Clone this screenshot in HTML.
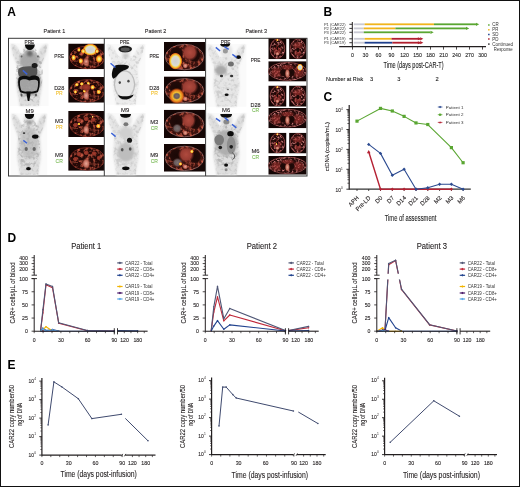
<!DOCTYPE html><html><head><meta charset="utf-8"><style>html,body{margin:0;padding:0;background:#fff;overflow:hidden}svg{display:block}text{font-family:"Liberation Sans",sans-serif}</style></head><body>
<div style="will-change:transform;width:520px;height:487px">
<svg width="520" height="487" viewBox="0 0 520 487">
<rect width="520" height="487" fill="#fff"/>
<text x="7.20" y="16.20" font-size="12" fill="#000" font-weight="bold">A</text>
<text x="323.60" y="16.20" font-size="12" fill="#000" font-weight="bold">B</text>
<text x="323.40" y="101.30" font-size="12" fill="#000" font-weight="bold">C</text>
<text x="7.40" y="242.30" font-size="12" fill="#000" font-weight="bold">D</text>
<text x="7.40" y="369.10" font-size="12" fill="#000" font-weight="bold">E</text>
<defs><filter id="b1" x="-30%" y="-30%" width="160%" height="160%"><feGaussianBlur stdDeviation="0.9"/></filter><filter id="b2" x="-30%" y="-30%" width="160%" height="160%"><feGaussianBlur stdDeviation="1.6"/></filter><filter id="b05" x="-30%" y="-30%" width="160%" height="160%"><feGaussianBlur stdDeviation="0.45"/></filter><filter id="texr" x="0" y="0" width="100%" height="100%"><feTurbulence type="fractalNoise" baseFrequency="0.32" numOctaves="2" seed="4"/><feColorMatrix type="matrix" values="0 0 0 0 0.80  0 0 0 0 0.14  0 0 0 0 0.08  3.0 0 0 0 -1.35"/></filter><filter id="texg" x="0" y="0" width="100%" height="100%"><feTurbulence type="fractalNoise" baseFrequency="0.28" numOctaves="2" seed="7"/><feColorMatrix type="matrix" values="0 0 0 0 0.40  0 0 0 0 0.40  0 0 0 0 0.40  4.0 0 0 0 -1.85"/></filter><filter id="texp" x="0" y="0" width="100%" height="100%"><feTurbulence type="fractalNoise" baseFrequency="0.5" numOctaves="2" seed="9"/><feColorMatrix type="matrix" values="0 0 0 0 0.86  0 0 0 0 0.30  0 0 0 0 0.30  3.2 0 0 0 -1.5"/></filter><radialGradient id="hot" cx="50%" cy="50%" r="50%"><stop offset="0" stop-color="#fbf3b0"/><stop offset="0.4" stop-color="#f7d23a"/><stop offset="0.75" stop-color="#e07018"/><stop offset="1" stop-color="#b02a10" stop-opacity="0"/></radialGradient><radialGradient id="hotw" cx="50%" cy="50%" r="50%"><stop offset="0" stop-color="#cfcfcf"/><stop offset="0.55" stop-color="#dcdcd0"/><stop offset="0.72" stop-color="#f7d23a"/><stop offset="0.88" stop-color="#e07018"/><stop offset="1" stop-color="#c03010" stop-opacity="0"/></radialGradient><radialGradient id="red" cx="50%" cy="50%" r="50%"><stop offset="0" stop-color="#a83c2e"/><stop offset="0.7" stop-color="#8a3024"/><stop offset="1" stop-color="#6a2018" stop-opacity="0"/></radialGradient><radialGradient id="pk" cx="50%" cy="50%" r="50%"><stop offset="0" stop-color="#b03a36" stop-opacity="0.7"/><stop offset="0.7" stop-color="#8a2a26" stop-opacity="0.55"/><stop offset="1" stop-color="#5a2420" stop-opacity="0"/></radialGradient><radialGradient id="sp" cx="50%" cy="50%" r="50%"><stop offset="0" stop-color="#e8a898"/><stop offset="0.6" stop-color="#c06a5a"/><stop offset="1" stop-color="#8a3020" stop-opacity="0"/></radialGradient><radialGradient id="dk" cx="50%" cy="50%" r="50%"><stop offset="0" stop-color="#1a0806"/><stop offset="0.8" stop-color="#220a08"/><stop offset="1" stop-color="#3a1410" stop-opacity="0"/></radialGradient><radialGradient id="gy" cx="50%" cy="50%" r="50%"><stop offset="0" stop-color="#7a7070"/><stop offset="0.6" stop-color="#6a5a5a"/><stop offset="1" stop-color="#5a3a38" stop-opacity="0"/></radialGradient><radialGradient id="ht" cx="50%" cy="50%" r="50%"><stop offset="0" stop-color="#b04a3e"/><stop offset="0.65" stop-color="#983c32"/><stop offset="1" stop-color="#7a2a24" stop-opacity="0"/></radialGradient></defs>
<text x="54.40" y="33.00" font-size="6.0" text-anchor="middle" fill="#231f20" stroke="#231f20" stroke-width="0.1" textLength="21.6" lengthAdjust="spacingAndGlyphs">Patient 1</text>
<text x="155.50" y="33.00" font-size="6.0" text-anchor="middle" fill="#231f20" stroke="#231f20" stroke-width="0.1" textLength="21.5" lengthAdjust="spacingAndGlyphs">Patient 2</text>
<text x="256.20" y="33.00" font-size="6.0" text-anchor="middle" fill="#231f20" stroke="#231f20" stroke-width="0.1" textLength="21.6" lengthAdjust="spacingAndGlyphs">Patient 3</text>
<rect x="8.5" y="38.3" width="298.5" height="137.7" fill="none" stroke="#3a3a3a" stroke-width="1"/>
<g transform="translate(10.00,43.50) scale(0.9625,1.0081)">
<rect x="0" y="0" width="40" height="62" fill="#fafafa"/>
<g filter="url(#b1)" fill="#dedede"><path d="M1,1 C4,0 7,2 10,8 L13,13 L27,13 L30,8 C33,2 36,0 39,1 L37,11 C35,16 33,20 32,24 L33,40 C33,46 32,50 31,54 L30,62 L10,62 L9,54 C8,50 7,46 7,40 L8,24 C7,20 5,16 3,11 Z"/><ellipse cx="20" cy="7" rx="6" ry="7"/></g>
<clipPath id="c1"><path d="M1,1 C4,0 7,2 10,8 L13,13 L27,13 L30,8 C33,2 36,0 39,1 L37,11 C35,16 33,20 32,24 L33,40 C33,46 32,50 31,54 L30,62 L10,62 L9,54 C8,50 7,46 7,40 L8,24 C7,20 5,16 3,11 Z"/></clipPath>
<rect x="0" y="0" width="40" height="62" filter="url(#texg)" clip-path="url(#c1)" opacity="0.4"/>
<ellipse cx="20" cy="17" rx="10" ry="9" fill="#a8a8a8" filter="url(#b1)"/>
<ellipse cx="20" cy="38" rx="12" ry="14" fill="#a0a0a0" filter="url(#b1)"/>
<clipPath id="c2"><ellipse cx="20" cy="30" rx="14" ry="28"/></clipPath>
<rect x="0" y="0" width="40" height="62" filter="url(#texg)" clip-path="url(#c2)" opacity="0.8"/>
<path d="M15.5,1 L25.7,1 C25.7,4.5 23,6.5 20.6,6.5 C18,6.5 15.5,4.5 15.5,1 Z" fill="#0e0e0e" filter="url(#b05)"/>
<ellipse cx="20.5" cy="10" rx="3" ry="3" fill="#6a6a6a" filter="url(#b1)"/>
<ellipse cx="12" cy="13" rx="1" ry="1" fill="#666" filter="url(#b05)"/>
<ellipse cx="29" cy="13" rx="1" ry="1" fill="#666" filter="url(#b05)"/>
<path d="M9,25 C13,22 24,22 28,24 C29,28 28,32 26,33 L10,33 C8,31 8,27 9,25 Z" fill="#555" filter="url(#b05)"/>
<ellipse cx="25.6" cy="21.8" rx="3.1" ry="2.5" fill="#1a1a1a" filter="url(#b05)"/>
<path d="M8.7,35 C10,31.5 16,31.5 20,33 C24,31 30,31.5 30.8,35 C31.5,40 30.5,45 29,48 C25,50 14,50 10.5,48 C8.5,44 8,39 8.7,35 Z" fill="#0e0e0e" filter="url(#b05)"/>
<path d="M10.5,37 C13,34.8 17,35.3 20,36.8 C23,35.8 27.5,35.3 29,37.3 C29.6,41 28.8,45 27.8,46.6 C23,48.2 15,48.2 11.8,46.6 C10.4,43 10,40 10.5,37 Z" fill="#a2a2a2" filter="url(#b05)"/>
<clipPath id="c3"><ellipse cx="19.8" cy="42" rx="8.5" ry="5.5"/></clipPath>
<rect x="0" y="0" width="40" height="62" filter="url(#texg)" clip-path="url(#c3)" opacity="0.9"/>
<path d="M17,47.5 L21.5,47.5 L21,52 L20,57 L18.5,57 L17.5,52 Z" fill="#0e0e0e" filter="url(#b05)"/>
<ellipse cx="12" cy="51" rx="1" ry="1.5" fill="#555" filter="url(#b05)"/>
<ellipse cx="27" cy="51" rx="1" ry="1.5" fill="#555" filter="url(#b05)"/>
<line x1="13.3" y1="26.7" x2="17.9" y2="30.6" stroke="#3b62d6" stroke-width="1.5"/>
</g>
<g transform="translate(10.80,113.50) scale(0.9125,0.9919)">
<rect x="0" y="0" width="40" height="62" fill="#fafafa"/>
<g filter="url(#b1)" fill="#dedede"><path d="M1,1 C4,0 7,2 10,8 L13,13 L27,13 L30,8 C33,2 36,0 39,1 L37,11 C35,16 33,20 32,24 L33,40 C33,46 32,50 31,54 L30,62 L10,62 L9,54 C8,50 7,46 7,40 L8,24 C7,20 5,16 3,11 Z"/><ellipse cx="20" cy="7" rx="6" ry="7"/></g>
<clipPath id="c4"><path d="M1,1 C4,0 7,2 10,8 L13,13 L27,13 L30,8 C33,2 36,0 39,1 L37,11 C35,16 33,20 32,24 L33,40 C33,46 32,50 31,54 L30,62 L10,62 L9,54 C8,50 7,46 7,40 L8,24 C7,20 5,16 3,11 Z"/></clipPath>
<rect x="0" y="0" width="40" height="62" filter="url(#texg)" clip-path="url(#c4)" opacity="0.4"/>
<ellipse cx="20" cy="30" rx="10" ry="16" fill="#c4c4c4" filter="url(#b1)"/>
<clipPath id="c5"><ellipse cx="20" cy="30" rx="12" ry="26"/></clipPath>
<rect x="0" y="0" width="40" height="62" filter="url(#texg)" clip-path="url(#c5)" opacity="0.6"/>
<path d="M15.3,0.5 L25.6,0.5 C25.6,4 23.5,5.6 20.4,5.6 C17.4,5.6 15.3,4 15.3,0.5 Z" fill="#0e0e0e" filter="url(#b05)"/>
<ellipse cx="20.5" cy="9" rx="3" ry="2.2" fill="#999" filter="url(#b1)"/>
<ellipse cx="26.8" cy="23.3" rx="3.6" ry="2.2" fill="#111" filter="url(#b05)"/>
<ellipse cx="14.5" cy="19.7" rx="1.3" ry="0.9" fill="#333" filter="url(#b05)"/>
<ellipse cx="16.9" cy="35.8" rx="1.8" ry="2" fill="#666" filter="url(#b05)"/>
<ellipse cx="25.6" cy="35.8" rx="1.8" ry="2" fill="#666" filter="url(#b05)"/>
<ellipse cx="19.3" cy="55.6" rx="2.6" ry="1.6" fill="#0e0e0e" filter="url(#b05)"/>
<line x1="13.7" y1="27" x2="17.8" y2="30" stroke="#3b62d6" stroke-width="1.5"/>
</g>
<clipPath id="c6"><rect x="0" y="0" width="35.90" height="25.70"/></clipPath>
<g transform="translate(68.20,43.50)" clip-path="url(#c6)">
<rect x="0" y="0" width="35.90" height="25.70" fill="#140605"/>
<ellipse cx="19.03" cy="13.88" rx="17.59" ry="11.31" fill="#240907" stroke="#8a3028" stroke-width="0.7"/>
<clipPath id="c7"><ellipse cx="19.03" cy="13.88" rx="17.59" ry="11.31"/></clipPath>
<rect x="0" y="0" width="35.90" height="25.70" filter="url(#texr)" clip-path="url(#c7)" opacity="0.85"/>
<ellipse cx="17.95" cy="18.50" rx="3.59" ry="5.14" fill="url(#sp)"/>
<ellipse cx="22.26" cy="6.17" rx="7.90" ry="6.17" fill="url(#hotw)"/>
<ellipse cx="5.38" cy="14.14" rx="2.51" ry="3.34" fill="url(#hot)"/>
<ellipse cx="12.56" cy="17.48" rx="2.51" ry="3.08" fill="url(#hot)"/>
<ellipse cx="30.87" cy="15.42" rx="3.59" ry="4.37" fill="url(#hot)"/>
<ellipse cx="15.08" cy="7.71" rx="2.51" ry="2.83" fill="url(#hot)"/>
<ellipse cx="28.72" cy="7.71" rx="2.15" ry="2.57" fill="url(#hot)"/>
<ellipse cx="10.77" cy="6.42" rx="1.79" ry="2.06" fill="url(#hot)"/>
<ellipse cx="17.95" cy="17.99" rx="2.87" ry="3.08" fill="url(#sp)"/>
</g>
<clipPath id="c8"><rect x="0" y="0" width="35.90" height="25.70"/></clipPath>
<g transform="translate(68.20,77.00)" clip-path="url(#c8)">
<rect x="0" y="0" width="35.90" height="25.70" fill="#140605"/>
<ellipse cx="19.03" cy="13.88" rx="17.59" ry="11.31" fill="#240907" stroke="#8a3028" stroke-width="0.7"/>
<clipPath id="c9"><ellipse cx="19.03" cy="13.88" rx="17.59" ry="11.31"/></clipPath>
<rect x="0" y="0" width="35.90" height="25.70" filter="url(#texr)" clip-path="url(#c9)" opacity="0.85"/>
<ellipse cx="17.95" cy="18.50" rx="3.59" ry="5.14" fill="url(#sp)"/>
<ellipse cx="8.62" cy="7.71" rx="2.15" ry="2.06" fill="url(#hot)"/>
<ellipse cx="13.64" cy="6.94" rx="2.15" ry="2.06" fill="url(#hot)"/>
<ellipse cx="20.10" cy="6.68" rx="1.79" ry="2.57" fill="url(#hot)"/>
<ellipse cx="24.41" cy="10.28" rx="2.51" ry="2.57" fill="url(#hot)"/>
<ellipse cx="30.51" cy="14.91" rx="2.51" ry="2.57" fill="url(#hot)"/>
<ellipse cx="7.18" cy="14.91" rx="1.79" ry="2.06" fill="url(#hot)"/>
<ellipse cx="16.16" cy="14.14" rx="1.79" ry="1.80" fill="url(#hot)"/>
<ellipse cx="17.95" cy="10.28" rx="5.38" ry="3.85" fill="url(#red)"/>
</g>
<clipPath id="c10"><rect x="0" y="0" width="35.90" height="26.00"/></clipPath>
<g transform="translate(68.20,111.00)" clip-path="url(#c10)">
<rect x="0" y="0" width="35.90" height="26.00" fill="#140605"/>
<ellipse cx="19.03" cy="14.04" rx="17.59" ry="11.44" fill="#240907" stroke="#8a3028" stroke-width="0.7"/>
<clipPath id="c11"><ellipse cx="19.03" cy="14.04" rx="17.59" ry="11.44"/></clipPath>
<rect x="0" y="0" width="35.90" height="26.00" filter="url(#texr)" clip-path="url(#c11)" opacity="0.85"/>
<ellipse cx="17.95" cy="18.72" rx="3.59" ry="5.20" fill="url(#sp)"/>
<ellipse cx="10.77" cy="9.10" rx="2.87" ry="2.60" fill="url(#red)"/>
<ellipse cx="17.95" cy="7.80" rx="2.87" ry="2.60" fill="url(#red)"/>
<ellipse cx="25.13" cy="8.58" rx="2.87" ry="2.60" fill="url(#red)"/>
<ellipse cx="30.16" cy="15.08" rx="2.51" ry="2.60" fill="url(#hot)"/>
<ellipse cx="7.18" cy="14.30" rx="2.51" ry="2.60" fill="url(#red)"/>
<ellipse cx="10.77" cy="13.00" rx="1.44" ry="1.56" fill="url(#hot)"/>
<ellipse cx="24.41" cy="5.72" rx="1.08" ry="1.30" fill="url(#hot)"/>
</g>
<clipPath id="c12"><rect x="0" y="0" width="35.90" height="25.80"/></clipPath>
<g transform="translate(68.20,145.00)" clip-path="url(#c12)">
<rect x="0" y="0" width="35.90" height="25.80" fill="#140605"/>
<ellipse cx="19.03" cy="13.93" rx="17.59" ry="11.35" fill="#240907" stroke="#8a3028" stroke-width="0.7"/>
<clipPath id="c13"><ellipse cx="19.03" cy="13.93" rx="17.59" ry="11.35"/></clipPath>
<rect x="0" y="0" width="35.90" height="25.80" filter="url(#texr)" clip-path="url(#c13)" opacity="0.85"/>
<ellipse cx="17.95" cy="18.58" rx="4.31" ry="5.68" fill="url(#sp)"/>
<ellipse cx="10.77" cy="9.03" rx="2.87" ry="2.58" fill="url(#red)"/>
<ellipse cx="17.95" cy="7.74" rx="2.87" ry="2.58" fill="url(#red)"/>
<ellipse cx="25.85" cy="8.51" rx="2.87" ry="2.58" fill="url(#red)"/>
<ellipse cx="7.18" cy="14.19" rx="2.51" ry="2.58" fill="url(#red)"/>
<ellipse cx="30.51" cy="12.90" rx="2.15" ry="2.58" fill="url(#red)"/>
</g>
<g transform="translate(106.00,44.00) scale(0.9850,0.9790)">
<rect x="0" y="0" width="40" height="62" fill="#fafafa"/>
<g filter="url(#b1)" fill="#ececec"><path d="M1,1 C4,0 7,2 10,8 L13,13 L27,13 L30,8 C33,2 36,0 39,1 L37,11 C35,16 33,20 32,24 L33,40 C33,46 32,50 31,54 L30,62 L10,62 L9,54 C8,50 7,46 7,40 L8,24 C7,20 5,16 3,11 Z"/><ellipse cx="20" cy="7" rx="6" ry="7"/></g>
<clipPath id="c14"><path d="M1,1 C4,0 7,2 10,8 L13,13 L27,13 L30,8 C33,2 36,0 39,1 L37,11 C35,16 33,20 32,24 L33,40 C33,46 32,50 31,54 L30,62 L10,62 L9,54 C8,50 7,46 7,40 L8,24 C7,20 5,16 3,11 Z"/></clipPath>
<rect x="0" y="0" width="40" height="62" filter="url(#texg)" clip-path="url(#c14)" opacity="0.4"/>
<ellipse cx="19.5" cy="5.2" rx="6.9" ry="3.4" fill="#1a1a1a" filter="url(#b05)"/>
<ellipse cx="19.5" cy="5.6" rx="4.6" ry="2.0" fill="#555" filter="url(#b05)"/>
<ellipse cx="20" cy="12" rx="3" ry="2.5" fill="#c8c8c8" filter="url(#b1)"/>
<ellipse cx="18.8" cy="41.2" rx="10.7" ry="14.3" fill="#bdbdbd" filter="url(#b05)"/>
<ellipse cx="18.8" cy="41.2" rx="9.6" ry="13.2" fill="#e6e6e6" filter="url(#b05)"/>
<path d="M10,21.8 C14,21 20,21.2 23.2,22.4 C23.4,24 22.5,25.5 20,26.2 C17,27 14.5,28.5 12.5,31 C11,33 9.5,35 7.5,35.6 C6,34.5 5.6,31 6.2,28.5 C6.8,25.5 8,23 10,21.8 Z" fill="#0e0e0e" filter="url(#b05)"/>
<ellipse cx="14" cy="39.4" rx="1.2" ry="1.4" fill="#444" filter="url(#b05)"/>
<ellipse cx="22.8" cy="38" rx="1.2" ry="1.4" fill="#444" filter="url(#b05)"/>
<path d="M12.2,51.8 C15,54 23,54 28,51.5 C27,55 23,56.6 19.5,56.6 C15.5,56.6 12.8,55 12.2,51.8 Z" fill="#0e0e0e" filter="url(#b05)"/>
<line x1="4.6" y1="19.6" x2="9.6" y2="24" stroke="#3b62d6" stroke-width="1.5"/>
</g>
<g transform="translate(106.50,113.00) scale(0.9750,0.9952)">
<rect x="0" y="0" width="40" height="62" fill="#fafafa"/>
<g filter="url(#b1)" fill="#e4e4e4"><path d="M1,1 C4,0 7,2 10,8 L13,13 L27,13 L30,8 C33,2 36,0 39,1 L37,11 C35,16 33,20 32,24 L33,40 C33,46 32,50 31,54 L30,62 L10,62 L9,54 C8,50 7,46 7,40 L8,24 C7,20 5,16 3,11 Z"/><ellipse cx="20" cy="7" rx="6" ry="7"/></g>
<clipPath id="c15"><path d="M1,1 C4,0 7,2 10,8 L13,13 L27,13 L30,8 C33,2 36,0 39,1 L37,11 C35,16 33,20 32,24 L33,40 C33,46 32,50 31,54 L30,62 L10,62 L9,54 C8,50 7,46 7,40 L8,24 C7,20 5,16 3,11 Z"/></clipPath>
<rect x="0" y="0" width="40" height="62" filter="url(#texg)" clip-path="url(#c15)" opacity="0.4"/>
<path d="M13.9,1 L25.1,1 C25.1,3.7 22.5,4.8 19.5,4.8 C16.5,4.8 13.9,3.7 13.9,1 Z" fill="#0e0e0e" filter="url(#b05)"/>
<ellipse cx="19.9" cy="11.3" rx="2.5" ry="2" fill="#777" filter="url(#b05)"/>
<ellipse cx="20" cy="20" rx="7" ry="6" fill="#d0d0d0" filter="url(#b1)"/>
<ellipse cx="23.6" cy="27.4" rx="2.6" ry="2.6" fill="#151515" filter="url(#b05)"/>
<ellipse cx="19.8" cy="39.5" rx="8.5" ry="9.5" fill="#bdbdbd" filter="url(#b1)"/>
<ellipse cx="16.1" cy="36.9" rx="1.4" ry="1.8" fill="#555" filter="url(#b05)"/>
<ellipse cx="24.3" cy="36.2" rx="1.4" ry="1.8" fill="#555" filter="url(#b05)"/>
<ellipse cx="19.8" cy="55.6" rx="3.8" ry="1.9" fill="#0e0e0e" filter="url(#b05)"/>
<line x1="4.9" y1="20.1" x2="9.4" y2="23.7" stroke="#3b62d6" stroke-width="1.5"/>
</g>
<clipPath id="c16"><rect x="0" y="0" width="41.00" height="29.00"/></clipPath>
<g transform="translate(164.00,42.00)" clip-path="url(#c16)">
<rect x="0" y="0" width="41.00" height="29.00" fill="#140605"/>
<ellipse cx="20.50" cy="15.08" rx="19.27" ry="12.76" fill="#3a120e" stroke="#9a7474" stroke-width="0.7"/>
<clipPath id="c17"><ellipse cx="20.50" cy="15.08" rx="19.27" ry="12.76"/></clipPath>
<rect x="0" y="0" width="41.00" height="29.00" filter="url(#texr)" clip-path="url(#c17)" opacity="0.85"/>
<ellipse cx="12.30" cy="12.18" rx="7.38" ry="8.12" fill="url(#dk)"/>
<ellipse cx="30.34" cy="13.05" rx="6.56" ry="7.54" fill="url(#dk)"/>
<ellipse cx="25.83" cy="10.44" rx="8.20" ry="8.70" fill="url(#ht)"/>
<ellipse cx="11.48" cy="19.14" rx="6.97" ry="8.70" fill="url(#hotw)"/>
<ellipse cx="21.32" cy="23.78" rx="2.87" ry="2.90" fill="url(#sp)"/>
</g>
<clipPath id="c18"><rect x="0" y="0" width="41.00" height="27.30"/></clipPath>
<g transform="translate(164.00,76.40)" clip-path="url(#c18)">
<rect x="0" y="0" width="41.00" height="27.30" fill="#140605"/>
<ellipse cx="20.50" cy="14.20" rx="19.27" ry="12.01" fill="#3a120e" stroke="#9a7474" stroke-width="0.7"/>
<clipPath id="c19"><ellipse cx="20.50" cy="14.20" rx="19.27" ry="12.01"/></clipPath>
<rect x="0" y="0" width="41.00" height="27.30" filter="url(#texr)" clip-path="url(#c19)" opacity="0.85"/>
<ellipse cx="12.30" cy="11.47" rx="7.38" ry="7.64" fill="url(#dk)"/>
<ellipse cx="31.16" cy="12.29" rx="6.15" ry="7.10" fill="url(#dk)"/>
<ellipse cx="25.42" cy="10.37" rx="9.02" ry="8.19" fill="url(#ht)"/>
<ellipse cx="12.71" cy="19.66" rx="8.20" ry="8.19" fill="url(#hot)"/>
<ellipse cx="12.71" cy="19.66" rx="4.10" ry="3.82" fill="url(#gy)"/>
<ellipse cx="21.32" cy="22.39" rx="2.87" ry="2.73" fill="url(#sp)"/>
</g>
<clipPath id="c20"><rect x="0" y="0" width="41.00" height="28.30"/></clipPath>
<g transform="translate(164.00,109.70)" clip-path="url(#c20)">
<rect x="0" y="0" width="41.00" height="28.30" fill="#140605"/>
<ellipse cx="20.50" cy="14.72" rx="19.27" ry="12.45" fill="#3a120e" stroke="#9a7474" stroke-width="0.7"/>
<clipPath id="c21"><ellipse cx="20.50" cy="14.72" rx="19.27" ry="12.45"/></clipPath>
<rect x="0" y="0" width="41.00" height="28.30" filter="url(#texr)" clip-path="url(#c21)" opacity="0.85"/>
<ellipse cx="12.30" cy="11.89" rx="7.38" ry="7.92" fill="url(#dk)"/>
<ellipse cx="31.16" cy="12.74" rx="6.15" ry="7.36" fill="url(#dk)"/>
<ellipse cx="24.60" cy="10.75" rx="7.38" ry="8.49" fill="url(#ht)"/>
<ellipse cx="13.12" cy="18.68" rx="4.92" ry="4.81" fill="url(#gy)"/>
<ellipse cx="21.32" cy="23.21" rx="2.87" ry="2.83" fill="url(#sp)"/>
</g>
<clipPath id="c22"><rect x="0" y="0" width="41.00" height="27.70"/></clipPath>
<g transform="translate(164.00,144.00)" clip-path="url(#c22)">
<rect x="0" y="0" width="41.00" height="27.70" fill="#140605"/>
<ellipse cx="20.50" cy="14.40" rx="19.27" ry="12.19" fill="#3a120e" stroke="#9a7474" stroke-width="0.7"/>
<clipPath id="c23"><ellipse cx="20.50" cy="14.40" rx="19.27" ry="12.19"/></clipPath>
<rect x="0" y="0" width="41.00" height="27.70" filter="url(#texr)" clip-path="url(#c23)" opacity="0.85"/>
<ellipse cx="12.30" cy="11.63" rx="7.38" ry="7.76" fill="url(#dk)"/>
<ellipse cx="31.16" cy="12.46" rx="6.15" ry="7.20" fill="url(#dk)"/>
<ellipse cx="22.14" cy="10.53" rx="8.20" ry="8.31" fill="url(#ht)"/>
<ellipse cx="13.53" cy="18.56" rx="5.33" ry="4.71" fill="url(#gy)"/>
<ellipse cx="27.88" cy="7.48" rx="2.05" ry="2.22" fill="url(#hot)"/>
<ellipse cx="16.40" cy="19.94" rx="2.05" ry="1.94" fill="url(#hot)"/>
<ellipse cx="21.32" cy="22.71" rx="2.87" ry="2.77" fill="url(#sp)"/>
</g>
<g transform="translate(206.40,44.00) scale(1.0000,1.0113)">
<rect x="0" y="0" width="40" height="62" fill="#fafafa"/>
<g filter="url(#b1)" fill="#e6e6e6"><path d="M1,1 C4,0 7,2 10,8 L13,13 L27,13 L30,8 C33,2 36,0 39,1 L37,11 C35,16 33,20 32,24 L33,40 C33,46 32,50 31,54 L30,62 L10,62 L9,54 C8,50 7,46 7,40 L8,24 C7,20 5,16 3,11 Z"/><ellipse cx="20" cy="7" rx="6" ry="7"/></g>
<clipPath id="c24"><path d="M1,1 C4,0 7,2 10,8 L13,13 L27,13 L30,8 C33,2 36,0 39,1 L37,11 C35,16 33,20 32,24 L33,40 C33,46 32,50 31,54 L30,62 L10,62 L9,54 C8,50 7,46 7,40 L8,24 C7,20 5,16 3,11 Z"/></clipPath>
<rect x="0" y="0" width="40" height="62" filter="url(#texg)" clip-path="url(#c24)" opacity="0.4"/>
<path d="M13.7,0 L23.8,0 C23.8,2 21.5,2.8 18.8,2.8 C16,2.8 13.7,2 13.7,0 Z" fill="#0e0e0e" filter="url(#b05)"/>
<ellipse cx="19" cy="7" rx="2.5" ry="2.5" fill="#999" filter="url(#b05)"/>
<ellipse cx="32.1" cy="13" rx="2.5" ry="1.8" fill="#0e0e0e" filter="url(#b05)"/>
<ellipse cx="24.5" cy="19.7" rx="3" ry="2.5" fill="#707070" filter="url(#b05)"/>
<ellipse cx="14.4" cy="26" rx="5.8" ry="5" fill="#a8a8a8" filter="url(#b1)"/>
<ellipse cx="15.1" cy="31.7" rx="1.6" ry="1.2" fill="#333" filter="url(#b05)"/>
<ellipse cx="25.2" cy="31.7" rx="1.6" ry="1.2" fill="#333" filter="url(#b05)"/>
<ellipse cx="21.6" cy="45" rx="0.6" ry="0.8" fill="#333" filter="url(#b05)"/>
<ellipse cx="20.2" cy="50.2" rx="2" ry="1.3" fill="#0e0e0e" filter="url(#b05)"/>
<line x1="9.4" y1="3.4" x2="13.7" y2="6.9" stroke="#3b62d6" stroke-width="1.5"/>
<line x1="18" y1="2.6" x2="22.3" y2="5.4" stroke="#3b62d6" stroke-width="1.5"/>
<line x1="25.9" y1="10.3" x2="30.3" y2="13.2" stroke="#3b62d6" stroke-width="1.5"/>
</g>
<g transform="translate(206.40,113.00) scale(1.0000,0.9952)">
<rect x="0" y="0" width="40" height="62" fill="#fafafa"/>
<g filter="url(#b1)" fill="#dedede"><path d="M1,1 C4,0 7,2 10,8 L13,13 L27,13 L30,8 C33,2 36,0 39,1 L37,11 C35,16 33,20 32,24 L33,40 C33,46 32,50 31,54 L30,62 L10,62 L9,54 C8,50 7,46 7,40 L8,24 C7,20 5,16 3,11 Z"/><ellipse cx="20" cy="7" rx="6" ry="7"/></g>
<clipPath id="c25"><path d="M1,1 C4,0 7,2 10,8 L13,13 L27,13 L30,8 C33,2 36,0 39,1 L37,11 C35,16 33,20 32,24 L33,40 C33,46 32,50 31,54 L30,62 L10,62 L9,54 C8,50 7,46 7,40 L8,24 C7,20 5,16 3,11 Z"/></clipPath>
<rect x="0" y="0" width="40" height="62" filter="url(#texg)" clip-path="url(#c25)" opacity="0.4"/>
<path d="M13.9,1 L25.6,1 C25.6,3.8 23,4.7 19.7,4.7 C16.5,4.7 13.9,3.8 13.9,1 Z" fill="#0e0e0e" filter="url(#b05)"/>
<ellipse cx="20" cy="9" rx="3" ry="2.5" fill="#888" filter="url(#b05)"/>
<ellipse cx="20" cy="30" rx="11" ry="13" fill="#b0b0b0" filter="url(#b1)"/>
<clipPath id="c26"><ellipse cx="20" cy="32" rx="12" ry="22"/></clipPath>
<rect x="0" y="0" width="40" height="62" filter="url(#texg)" clip-path="url(#c26)" opacity="0.6"/>
<ellipse cx="12.8" cy="27" rx="4.8" ry="5.5" fill="#7a7a7a" filter="url(#b05)"/>
<ellipse cx="24.8" cy="32.5" rx="4.4" ry="8.8" fill="#8e8e8e" filter="url(#b05)"/>
<ellipse cx="24.1" cy="20.8" rx="3.2" ry="2.6" fill="#0a0a0a" filter="url(#b05)"/>
<ellipse cx="13.9" cy="34.7" rx="1.8" ry="1.8" fill="#1a1a1a" filter="url(#b05)"/>
<ellipse cx="24.8" cy="34" rx="1.8" ry="1.8" fill="#1a1a1a" filter="url(#b05)"/>
<path d="M26,40 C29,42 29,45 26,47" fill="none" stroke="#222" stroke-width="0.8" filter="url(#b05)"/>
<ellipse cx="19.7" cy="52.3" rx="2" ry="1.6" fill="#0e0e0e" filter="url(#b05)"/>
<ellipse cx="19.7" cy="57" rx="1.5" ry="1.6" fill="#888" filter="url(#b05)"/>
<line x1="9.5" y1="5.4" x2="13.9" y2="8.3" stroke="#3b62d6" stroke-width="1.5"/>
<line x1="18.3" y1="4.7" x2="21.9" y2="7.6" stroke="#3b62d6" stroke-width="1.5"/>
<line x1="25.6" y1="11.3" x2="29.9" y2="14.9" stroke="#3b62d6" stroke-width="1.5"/>
</g>
<clipPath id="c27"><rect x="0" y="0" width="18.20" height="20.90"/></clipPath>
<g transform="translate(268.30,38.30)" clip-path="url(#c27)">
<rect x="0" y="0" width="18.20" height="20.90" fill="#140605"/>
<ellipse cx="9.10" cy="10.45" rx="7.28" ry="9.61" fill="#260a09" stroke="#b05050" stroke-width="0.7"/>
<clipPath id="c28"><ellipse cx="9.10" cy="10.45" rx="7.28" ry="9.61"/></clipPath>
<rect x="0" y="0" width="18.20" height="20.90" filter="url(#texp)" clip-path="url(#c28)" opacity="0.85"/>
<ellipse cx="9.10" cy="11.50" rx="5.10" ry="6.27" fill="url(#pk)"/>
<ellipse cx="6.92" cy="7.94" rx="1.46" ry="1.67" fill="url(#dk)"/>
<ellipse cx="11.28" cy="7.94" rx="1.46" ry="1.67" fill="url(#dk)"/>
<ellipse cx="9.10" cy="10.03" rx="1.09" ry="2.09" fill="url(#dk)"/>
<ellipse cx="9.10" cy="1.67" rx="1.27" ry="1.46" fill="url(#hot)"/>
<ellipse cx="9.10" cy="15.47" rx="2.18" ry="2.09" fill="url(#sp)"/>
</g>
<clipPath id="c29"><rect x="0" y="0" width="17.40" height="20.90"/></clipPath>
<g transform="translate(289.10,38.30)" clip-path="url(#c29)">
<rect x="0" y="0" width="17.40" height="20.90" fill="#140605"/>
<ellipse cx="8.70" cy="10.45" rx="7.48" ry="9.61" fill="#260a09" stroke="#b05050" stroke-width="0.7"/>
<clipPath id="c30"><ellipse cx="8.70" cy="10.45" rx="7.48" ry="9.61"/></clipPath>
<rect x="0" y="0" width="17.40" height="20.90" filter="url(#texp)" clip-path="url(#c30)" opacity="0.85"/>
<ellipse cx="8.70" cy="7.32" rx="6.09" ry="4.60" fill="url(#pk)"/>
<ellipse cx="8.70" cy="14.63" rx="4.35" ry="4.18" fill="url(#pk)"/>
<ellipse cx="8.70" cy="11.50" rx="1.74" ry="2.51" fill="url(#dk)"/>
</g>
<clipPath id="c31"><rect x="0" y="0" width="38.20" height="20.40"/></clipPath>
<g transform="translate(268.30,61.20)" clip-path="url(#c31)">
<rect x="0" y="0" width="38.20" height="20.40" fill="#140605"/>
<ellipse cx="19.10" cy="10.20" rx="19.10" ry="8.98" fill="#260a09" stroke="#a05050" stroke-width="0.7"/>
<clipPath id="c32"><ellipse cx="19.10" cy="10.20" rx="19.10" ry="8.98"/></clipPath>
<rect x="0" y="0" width="38.20" height="20.40" filter="url(#texp)" clip-path="url(#c32)" opacity="0.85"/>
<ellipse cx="8.40" cy="11.22" rx="6.88" ry="6.12" fill="url(#pk)"/>
<ellipse cx="29.80" cy="11.22" rx="6.88" ry="6.12" fill="url(#pk)"/>
<ellipse cx="15.28" cy="11.22" rx="3.82" ry="4.08" fill="url(#dk)"/>
<ellipse cx="22.92" cy="11.22" rx="3.82" ry="4.08" fill="url(#dk)"/>
<ellipse cx="19.10" cy="12.24" rx="2.67" ry="5.10" fill="url(#sp)"/>
<ellipse cx="19.10" cy="6.12" rx="7.64" ry="3.06" fill="url(#pk)"/>
<ellipse cx="31.71" cy="6.12" rx="3.06" ry="3.67" fill="url(#hotw)"/>
</g>
<clipPath id="c33"><rect x="0" y="0" width="18.20" height="21.20"/></clipPath>
<g transform="translate(268.30,85.50)" clip-path="url(#c33)">
<rect x="0" y="0" width="18.20" height="21.20" fill="#140605"/>
<ellipse cx="9.10" cy="10.60" rx="7.28" ry="9.75" fill="#260a09" stroke="#b05050" stroke-width="0.7"/>
<clipPath id="c34"><ellipse cx="9.10" cy="10.60" rx="7.28" ry="9.75"/></clipPath>
<rect x="0" y="0" width="18.20" height="21.20" filter="url(#texp)" clip-path="url(#c34)" opacity="0.85"/>
<ellipse cx="9.10" cy="11.66" rx="5.10" ry="6.36" fill="url(#pk)"/>
<ellipse cx="6.92" cy="8.06" rx="1.46" ry="1.70" fill="url(#dk)"/>
<ellipse cx="11.28" cy="8.06" rx="1.46" ry="1.70" fill="url(#dk)"/>
<ellipse cx="9.10" cy="10.18" rx="1.09" ry="2.12" fill="url(#dk)"/>
<ellipse cx="9.10" cy="1.70" rx="1.27" ry="1.48" fill="url(#hot)"/>
<ellipse cx="9.10" cy="15.69" rx="2.18" ry="2.12" fill="url(#sp)"/>
</g>
<clipPath id="c35"><rect x="0" y="0" width="17.40" height="21.20"/></clipPath>
<g transform="translate(289.10,85.50)" clip-path="url(#c35)">
<rect x="0" y="0" width="17.40" height="21.20" fill="#140605"/>
<ellipse cx="8.70" cy="10.60" rx="7.48" ry="9.75" fill="#260a09" stroke="#b05050" stroke-width="0.7"/>
<clipPath id="c36"><ellipse cx="8.70" cy="10.60" rx="7.48" ry="9.75"/></clipPath>
<rect x="0" y="0" width="17.40" height="21.20" filter="url(#texp)" clip-path="url(#c36)" opacity="0.85"/>
<ellipse cx="8.70" cy="7.42" rx="6.09" ry="4.66" fill="url(#pk)"/>
<ellipse cx="8.70" cy="14.84" rx="4.35" ry="4.24" fill="url(#pk)"/>
<ellipse cx="8.70" cy="11.66" rx="1.74" ry="2.54" fill="url(#dk)"/>
</g>
<clipPath id="c37"><rect x="0" y="0" width="38.20" height="20.30"/></clipPath>
<g transform="translate(268.30,108.00)" clip-path="url(#c37)">
<rect x="0" y="0" width="38.20" height="20.30" fill="#140605"/>
<ellipse cx="19.10" cy="10.15" rx="19.10" ry="8.93" fill="#260a09" stroke="#a05050" stroke-width="0.7"/>
<clipPath id="c38"><ellipse cx="19.10" cy="10.15" rx="19.10" ry="8.93"/></clipPath>
<rect x="0" y="0" width="38.20" height="20.30" filter="url(#texp)" clip-path="url(#c38)" opacity="0.85"/>
<ellipse cx="8.40" cy="11.17" rx="6.88" ry="6.09" fill="url(#pk)"/>
<ellipse cx="29.80" cy="11.17" rx="6.88" ry="6.09" fill="url(#pk)"/>
<ellipse cx="15.28" cy="11.17" rx="3.82" ry="4.06" fill="url(#dk)"/>
<ellipse cx="22.92" cy="11.17" rx="3.82" ry="4.06" fill="url(#dk)"/>
<ellipse cx="19.10" cy="12.18" rx="2.67" ry="5.08" fill="url(#sp)"/>
<ellipse cx="19.10" cy="6.09" rx="7.64" ry="3.05" fill="url(#pk)"/>
</g>
<clipPath id="c39"><rect x="0" y="0" width="18.20" height="20.80"/></clipPath>
<g transform="translate(268.30,132.70)" clip-path="url(#c39)">
<rect x="0" y="0" width="18.20" height="20.80" fill="#140605"/>
<ellipse cx="9.10" cy="10.40" rx="7.28" ry="9.57" fill="#260a09" stroke="#b05050" stroke-width="0.7"/>
<clipPath id="c40"><ellipse cx="9.10" cy="10.40" rx="7.28" ry="9.57"/></clipPath>
<rect x="0" y="0" width="18.20" height="20.80" filter="url(#texp)" clip-path="url(#c40)" opacity="0.85"/>
<ellipse cx="9.10" cy="11.44" rx="5.10" ry="6.24" fill="url(#pk)"/>
<ellipse cx="6.92" cy="7.90" rx="1.46" ry="1.66" fill="url(#dk)"/>
<ellipse cx="11.28" cy="7.90" rx="1.46" ry="1.66" fill="url(#dk)"/>
<ellipse cx="9.10" cy="9.98" rx="1.09" ry="2.08" fill="url(#dk)"/>
<ellipse cx="9.10" cy="1.66" rx="1.27" ry="1.46" fill="url(#hot)"/>
<ellipse cx="9.10" cy="15.39" rx="2.18" ry="2.08" fill="url(#sp)"/>
<ellipse cx="8.19" cy="11.44" rx="1.09" ry="1.25" fill="url(#hot)"/>
</g>
<clipPath id="c41"><rect x="0" y="0" width="17.40" height="20.80"/></clipPath>
<g transform="translate(289.10,132.70)" clip-path="url(#c41)">
<rect x="0" y="0" width="17.40" height="20.80" fill="#140605"/>
<ellipse cx="8.70" cy="10.40" rx="7.48" ry="9.57" fill="#260a09" stroke="#b05050" stroke-width="0.7"/>
<clipPath id="c42"><ellipse cx="8.70" cy="10.40" rx="7.48" ry="9.57"/></clipPath>
<rect x="0" y="0" width="17.40" height="20.80" filter="url(#texp)" clip-path="url(#c42)" opacity="0.85"/>
<ellipse cx="8.70" cy="7.28" rx="6.09" ry="4.58" fill="url(#pk)"/>
<ellipse cx="8.70" cy="14.56" rx="4.35" ry="4.16" fill="url(#pk)"/>
<ellipse cx="8.70" cy="11.44" rx="1.74" ry="2.50" fill="url(#dk)"/>
</g>
<clipPath id="c43"><rect x="0" y="0" width="38.20" height="18.70"/></clipPath>
<g transform="translate(268.30,156.00)" clip-path="url(#c43)">
<rect x="0" y="0" width="38.20" height="18.70" fill="#140605"/>
<ellipse cx="19.10" cy="9.35" rx="19.10" ry="8.23" fill="#260a09" stroke="#a05050" stroke-width="0.7"/>
<clipPath id="c44"><ellipse cx="19.10" cy="9.35" rx="19.10" ry="8.23"/></clipPath>
<rect x="0" y="0" width="38.20" height="18.70" filter="url(#texp)" clip-path="url(#c44)" opacity="0.85"/>
<ellipse cx="8.40" cy="10.28" rx="6.88" ry="5.61" fill="url(#pk)"/>
<ellipse cx="29.80" cy="10.28" rx="6.88" ry="5.61" fill="url(#pk)"/>
<ellipse cx="15.28" cy="10.28" rx="3.82" ry="3.74" fill="url(#dk)"/>
<ellipse cx="22.92" cy="10.28" rx="3.82" ry="3.74" fill="url(#dk)"/>
<ellipse cx="19.10" cy="11.22" rx="2.67" ry="4.67" fill="url(#sp)"/>
<ellipse cx="19.10" cy="5.61" rx="7.64" ry="2.80" fill="url(#pk)"/>
</g>
<line x1="104.30" y1="38.30" x2="104.30" y2="176.00" stroke="#3a3a3a" stroke-width="1"/>
<line x1="205.60" y1="38.30" x2="205.60" y2="176.00" stroke="#3a3a3a" stroke-width="1"/>
<text x="59.20" y="58.40" font-size="5.69" text-anchor="middle" fill="#231f20" stroke="#231f20" stroke-width="0.1" textLength="9.7" lengthAdjust="spacingAndGlyphs">PRE</text>
<text x="59.20" y="89.50" font-size="5.69" text-anchor="middle" fill="#231f20" stroke="#231f20" stroke-width="0.1" textLength="10.1" lengthAdjust="spacingAndGlyphs">D28</text>
<text x="59.20" y="95.00" font-size="5.69" text-anchor="middle" fill="#f2c131" stroke="#f2c131" stroke-width="0.1" textLength="7.0" lengthAdjust="spacingAndGlyphs">PR</text>
<text x="59.20" y="123.40" font-size="5.69" text-anchor="middle" fill="#231f20" stroke="#231f20" stroke-width="0.1" textLength="8.2" lengthAdjust="spacingAndGlyphs">M3</text>
<text x="59.20" y="129.20" font-size="5.69" text-anchor="middle" fill="#f2c131" stroke="#f2c131" stroke-width="0.1" textLength="7.0" lengthAdjust="spacingAndGlyphs">PR</text>
<text x="59.20" y="157.10" font-size="5.69" text-anchor="middle" fill="#231f20" stroke="#231f20" stroke-width="0.1" textLength="8.2" lengthAdjust="spacingAndGlyphs">M9</text>
<text x="59.20" y="162.70" font-size="5.69" text-anchor="middle" fill="#78b955" stroke="#78b955" stroke-width="0.1" textLength="7.2" lengthAdjust="spacingAndGlyphs">CR</text>
<text x="154.30" y="58.30" font-size="5.69" text-anchor="middle" fill="#231f20" stroke="#231f20" stroke-width="0.1" textLength="9.7" lengthAdjust="spacingAndGlyphs">PRE</text>
<text x="154.30" y="89.50" font-size="5.69" text-anchor="middle" fill="#231f20" stroke="#231f20" stroke-width="0.1" textLength="10.1" lengthAdjust="spacingAndGlyphs">D28</text>
<text x="154.30" y="94.80" font-size="5.69" text-anchor="middle" fill="#f2c131" stroke="#f2c131" stroke-width="0.1" textLength="7.0" lengthAdjust="spacingAndGlyphs">PR</text>
<text x="154.30" y="123.50" font-size="5.69" text-anchor="middle" fill="#231f20" stroke="#231f20" stroke-width="0.1" textLength="8.2" lengthAdjust="spacingAndGlyphs">M3</text>
<text x="154.30" y="129.70" font-size="5.69" text-anchor="middle" fill="#78b955" stroke="#78b955" stroke-width="0.1" textLength="7.2" lengthAdjust="spacingAndGlyphs">CR</text>
<text x="154.30" y="156.80" font-size="5.69" text-anchor="middle" fill="#231f20" stroke="#231f20" stroke-width="0.1" textLength="8.2" lengthAdjust="spacingAndGlyphs">M9</text>
<text x="154.30" y="162.90" font-size="5.69" text-anchor="middle" fill="#78b955" stroke="#78b955" stroke-width="0.1" textLength="7.2" lengthAdjust="spacingAndGlyphs">CR</text>
<text x="255.50" y="62.00" font-size="5.69" text-anchor="middle" fill="#231f20" stroke="#231f20" stroke-width="0.1" textLength="9.7" lengthAdjust="spacingAndGlyphs">PRE</text>
<text x="255.50" y="106.80" font-size="5.69" text-anchor="middle" fill="#231f20" stroke="#231f20" stroke-width="0.1" textLength="10.1" lengthAdjust="spacingAndGlyphs">D28</text>
<text x="255.50" y="112.40" font-size="5.69" text-anchor="middle" fill="#78b955" stroke="#78b955" stroke-width="0.1" textLength="7.2" lengthAdjust="spacingAndGlyphs">CR</text>
<text x="255.50" y="153.10" font-size="5.69" text-anchor="middle" fill="#231f20" stroke="#231f20" stroke-width="0.1" textLength="8.2" lengthAdjust="spacingAndGlyphs">M6</text>
<text x="255.50" y="158.80" font-size="5.69" text-anchor="middle" fill="#78b955" stroke="#78b955" stroke-width="0.1" textLength="7.2" lengthAdjust="spacingAndGlyphs">CR</text>
<text x="29.40" y="43.50" font-size="5.69" text-anchor="middle" fill="#231f20" stroke="#231f20" stroke-width="0.1" textLength="9.7" lengthAdjust="spacingAndGlyphs">PRE</text>
<text x="29.60" y="112.60" font-size="5.69" text-anchor="middle" fill="#231f20" stroke="#231f20" stroke-width="0.1" textLength="8.2" lengthAdjust="spacingAndGlyphs">M9</text>
<text x="124.60" y="43.70" font-size="5.69" text-anchor="middle" fill="#231f20" stroke="#231f20" stroke-width="0.1" textLength="9.7" lengthAdjust="spacingAndGlyphs">PRE</text>
<text x="125.20" y="112.30" font-size="5.69" text-anchor="middle" fill="#231f20" stroke="#231f20" stroke-width="0.1" textLength="8.2" lengthAdjust="spacingAndGlyphs">M9</text>
<text x="225.60" y="43.60" font-size="5.69" text-anchor="middle" fill="#231f20" stroke="#231f20" stroke-width="0.1" textLength="9.7" lengthAdjust="spacingAndGlyphs">PRE</text>
<text x="226.20" y="112.30" font-size="5.69" text-anchor="middle" fill="#231f20" stroke="#231f20" stroke-width="0.1" textLength="8.2" lengthAdjust="spacingAndGlyphs">M6</text>
<rect x="353.80" y="23.40" width="10.83" height="1.80" fill="#c9c9d3"/>
<rect x="364.63" y="23.40" width="69.33" height="1.80" fill="#f1b51c"/>
<rect x="433.97" y="23.40" width="42.03" height="1.80" fill="#5aa632"/>
<path d="M476.00,22.70L479.20,24.30L476.00,25.90Z" fill="#5aa632"/>
<rect x="353.80" y="27.50" width="9.97" height="1.80" fill="#c9c9d3"/>
<rect x="363.77" y="27.50" width="31.63" height="1.80" fill="#f1b51c"/>
<rect x="395.40" y="27.50" width="70.63" height="1.80" fill="#5aa632"/>
<path d="M466.03,26.80L469.23,28.40L466.03,30.00Z" fill="#5aa632"/>
<rect x="353.80" y="31.40" width="9.97" height="1.80" fill="#c9c9d3"/>
<rect x="363.77" y="31.40" width="66.73" height="1.80" fill="#5aa632"/>
<path d="M430.50,30.70L433.70,32.30L430.50,33.90Z" fill="#5aa632"/>
<rect x="353.80" y="37.90" width="10.83" height="1.80" fill="#c9c9d3"/>
<rect x="364.63" y="37.90" width="26.87" height="1.80" fill="#f1b51c"/>
<rect x="391.50" y="37.90" width="28.60" height="1.80" fill="#b01f2e"/>
<path d="M420.10,37.20L423.30,38.80L420.10,40.40Z" fill="#b01f2e"/>
<path d="M417.90,37.30L420.70,38.80L417.90,40.30Z" fill="#b01f2e"/>
<rect x="353.80" y="41.80" width="10.83" height="1.80" fill="#c9c9d3"/>
<rect x="364.63" y="41.80" width="27.73" height="1.80" fill="#1e3f8c"/>
<rect x="392.37" y="41.80" width="27.73" height="1.80" fill="#b01f2e"/>
<path d="M420.10,41.10L423.30,42.70L420.10,44.30Z" fill="#b01f2e"/>
<path d="M417.90,41.20L420.70,42.70L417.90,44.20Z" fill="#b01f2e"/>
<line x1="352.30" y1="22.00" x2="352.30" y2="47.20" stroke="#231f20" stroke-width="1"/>
<line x1="339.20" y1="46.60" x2="486.00" y2="46.60" stroke="#231f20" stroke-width="1.1"/>
<line x1="349.40" y1="24.30" x2="352.30" y2="24.30" stroke="#231f20" stroke-width="0.9"/>
<line x1="349.40" y1="28.40" x2="352.30" y2="28.40" stroke="#231f20" stroke-width="0.9"/>
<line x1="349.40" y1="32.30" x2="352.30" y2="32.30" stroke="#231f20" stroke-width="0.9"/>
<line x1="349.40" y1="38.80" x2="352.30" y2="38.80" stroke="#231f20" stroke-width="0.9"/>
<line x1="349.40" y1="42.70" x2="352.30" y2="42.70" stroke="#231f20" stroke-width="0.9"/>
<line x1="352.50" y1="46.60" x2="352.50" y2="49.60" stroke="#231f20" stroke-width="0.8"/>
<text x="352.50" y="56.70" font-size="5.76" text-anchor="middle" fill="#222" stroke="#222" stroke-width="0.1" textLength="2.9" lengthAdjust="spacingAndGlyphs">0</text>
<line x1="365.50" y1="46.60" x2="365.50" y2="49.60" stroke="#231f20" stroke-width="0.8"/>
<text x="365.50" y="56.70" font-size="5.76" text-anchor="middle" fill="#222" stroke="#222" stroke-width="0.1" textLength="5.8" lengthAdjust="spacingAndGlyphs">30</text>
<line x1="378.50" y1="46.60" x2="378.50" y2="49.60" stroke="#231f20" stroke-width="0.8"/>
<text x="378.50" y="56.70" font-size="5.76" text-anchor="middle" fill="#222" stroke="#222" stroke-width="0.1" textLength="5.8" lengthAdjust="spacingAndGlyphs">60</text>
<line x1="391.50" y1="46.60" x2="391.50" y2="49.60" stroke="#231f20" stroke-width="0.8"/>
<text x="391.50" y="56.70" font-size="5.76" text-anchor="middle" fill="#222" stroke="#222" stroke-width="0.1" textLength="5.8" lengthAdjust="spacingAndGlyphs">90</text>
<line x1="404.50" y1="46.60" x2="404.50" y2="49.60" stroke="#231f20" stroke-width="0.8"/>
<text x="404.50" y="56.70" font-size="5.76" text-anchor="middle" fill="#222" stroke="#222" stroke-width="0.1" textLength="8.7" lengthAdjust="spacingAndGlyphs">120</text>
<line x1="417.50" y1="46.60" x2="417.50" y2="49.60" stroke="#231f20" stroke-width="0.8"/>
<text x="417.50" y="56.70" font-size="5.76" text-anchor="middle" fill="#222" stroke="#222" stroke-width="0.1" textLength="8.7" lengthAdjust="spacingAndGlyphs">150</text>
<line x1="430.50" y1="46.60" x2="430.50" y2="49.60" stroke="#231f20" stroke-width="0.8"/>
<text x="430.50" y="56.70" font-size="5.76" text-anchor="middle" fill="#222" stroke="#222" stroke-width="0.1" textLength="8.7" lengthAdjust="spacingAndGlyphs">180</text>
<line x1="443.50" y1="46.60" x2="443.50" y2="49.60" stroke="#231f20" stroke-width="0.8"/>
<text x="443.50" y="56.70" font-size="5.76" text-anchor="middle" fill="#222" stroke="#222" stroke-width="0.1" textLength="8.7" lengthAdjust="spacingAndGlyphs">210</text>
<line x1="456.50" y1="46.60" x2="456.50" y2="49.60" stroke="#231f20" stroke-width="0.8"/>
<text x="456.50" y="56.70" font-size="5.76" text-anchor="middle" fill="#222" stroke="#222" stroke-width="0.1" textLength="8.7" lengthAdjust="spacingAndGlyphs">240</text>
<line x1="469.50" y1="46.60" x2="469.50" y2="49.60" stroke="#231f20" stroke-width="0.8"/>
<text x="469.50" y="56.70" font-size="5.76" text-anchor="middle" fill="#222" stroke="#222" stroke-width="0.1" textLength="8.7" lengthAdjust="spacingAndGlyphs">270</text>
<line x1="482.50" y1="46.60" x2="482.50" y2="49.60" stroke="#231f20" stroke-width="0.8"/>
<text x="482.50" y="56.70" font-size="5.76" text-anchor="middle" fill="#222" stroke="#222" stroke-width="0.1" textLength="8.7" lengthAdjust="spacingAndGlyphs">300</text>
<text x="345.50" y="25.80" font-size="4.12" text-anchor="end" fill="#333" textLength="21.6" lengthAdjust="spacingAndGlyphs">P1 (CAR22)</text>
<text x="345.50" y="29.90" font-size="4.12" text-anchor="end" fill="#333" textLength="21.6" lengthAdjust="spacingAndGlyphs">P2 (CAR22)</text>
<text x="345.50" y="33.80" font-size="4.12" text-anchor="end" fill="#333" textLength="21.6" lengthAdjust="spacingAndGlyphs">P3 (CAR22)</text>
<text x="345.50" y="40.30" font-size="4.12" text-anchor="end" fill="#333" textLength="21.6" lengthAdjust="spacingAndGlyphs">P1 (CAR19)</text>
<text x="345.50" y="44.20" font-size="4.12" text-anchor="end" fill="#333" textLength="21.6" lengthAdjust="spacingAndGlyphs">P3 (CAR19)</text>
<text x="413.50" y="68.00" font-size="8.23" text-anchor="middle" fill="#222" stroke="#222" stroke-width="0.1" textLength="60" lengthAdjust="spacingAndGlyphs">Time (days post-CAR-T)</text>
<rect x="488.10" y="24.25" width="1.50" height="1.50" fill="#5aa632"/>
<text x="492.30" y="26.40" font-size="4.53" fill="#333" textLength="6.4" lengthAdjust="spacingAndGlyphs">CR</text>
<rect x="488.10" y="29.05" width="1.50" height="1.50" fill="#f1b51c"/>
<text x="492.30" y="31.20" font-size="4.53" fill="#333" textLength="6.0" lengthAdjust="spacingAndGlyphs">PR</text>
<rect x="488.10" y="33.75" width="1.50" height="1.50" fill="#1e3f8c"/>
<text x="492.30" y="36.00" font-size="4.53" fill="#333" textLength="6.2" lengthAdjust="spacingAndGlyphs">SD</text>
<rect x="488.10" y="38.25" width="1.50" height="1.50" fill="#b01f2e"/>
<text x="492.30" y="40.60" font-size="4.53" fill="#333" textLength="6.2" lengthAdjust="spacingAndGlyphs">PD</text>
<rect x="488.10" y="43.35" width="1.50" height="1.50" fill="#333"/>
<text x="492.30" y="45.50" font-size="4.53" fill="#333" textLength="20.7" lengthAdjust="spacingAndGlyphs">Continued</text>
<text x="493.80" y="50.80" font-size="4.53" fill="#333" textLength="18.9" lengthAdjust="spacingAndGlyphs">Response</text>
<text x="326.00" y="80.60" font-size="5.76" fill="#222" stroke="#222" stroke-width="0.1" textLength="37.3" lengthAdjust="spacingAndGlyphs">Number at Risk</text>
<text x="371.50" y="80.60" font-size="5.76" text-anchor="middle" fill="#222" stroke="#222" stroke-width="0.1">3</text>
<text x="398.90" y="80.60" font-size="5.76" text-anchor="middle" fill="#222" stroke="#222" stroke-width="0.1">3</text>
<text x="437.00" y="80.60" font-size="5.76" text-anchor="middle" fill="#222" stroke="#222" stroke-width="0.1">2</text>
<line x1="349.20" y1="105.00" x2="349.20" y2="189.60" stroke="#231f20" stroke-width="1.2"/>
<line x1="347.40" y1="183.21" x2="349.20" y2="183.21" stroke="#231f20" stroke-width="0.7"/>
<line x1="347.40" y1="179.71" x2="349.20" y2="179.71" stroke="#231f20" stroke-width="0.7"/>
<line x1="347.40" y1="177.22" x2="349.20" y2="177.22" stroke="#231f20" stroke-width="0.7"/>
<line x1="347.40" y1="175.29" x2="349.20" y2="175.29" stroke="#231f20" stroke-width="0.7"/>
<line x1="347.40" y1="173.71" x2="349.20" y2="173.71" stroke="#231f20" stroke-width="0.7"/>
<line x1="347.40" y1="172.38" x2="349.20" y2="172.38" stroke="#231f20" stroke-width="0.7"/>
<line x1="347.40" y1="171.23" x2="349.20" y2="171.23" stroke="#231f20" stroke-width="0.7"/>
<line x1="347.40" y1="170.21" x2="349.20" y2="170.21" stroke="#231f20" stroke-width="0.7"/>
<line x1="347.40" y1="163.31" x2="349.20" y2="163.31" stroke="#231f20" stroke-width="0.7"/>
<line x1="347.40" y1="159.81" x2="349.20" y2="159.81" stroke="#231f20" stroke-width="0.7"/>
<line x1="347.40" y1="157.32" x2="349.20" y2="157.32" stroke="#231f20" stroke-width="0.7"/>
<line x1="347.40" y1="155.39" x2="349.20" y2="155.39" stroke="#231f20" stroke-width="0.7"/>
<line x1="347.40" y1="153.81" x2="349.20" y2="153.81" stroke="#231f20" stroke-width="0.7"/>
<line x1="347.40" y1="152.48" x2="349.20" y2="152.48" stroke="#231f20" stroke-width="0.7"/>
<line x1="347.40" y1="151.33" x2="349.20" y2="151.33" stroke="#231f20" stroke-width="0.7"/>
<line x1="347.40" y1="150.31" x2="349.20" y2="150.31" stroke="#231f20" stroke-width="0.7"/>
<line x1="347.40" y1="143.41" x2="349.20" y2="143.41" stroke="#231f20" stroke-width="0.7"/>
<line x1="347.40" y1="139.91" x2="349.20" y2="139.91" stroke="#231f20" stroke-width="0.7"/>
<line x1="347.40" y1="137.42" x2="349.20" y2="137.42" stroke="#231f20" stroke-width="0.7"/>
<line x1="347.40" y1="135.49" x2="349.20" y2="135.49" stroke="#231f20" stroke-width="0.7"/>
<line x1="347.40" y1="133.91" x2="349.20" y2="133.91" stroke="#231f20" stroke-width="0.7"/>
<line x1="347.40" y1="132.58" x2="349.20" y2="132.58" stroke="#231f20" stroke-width="0.7"/>
<line x1="347.40" y1="131.43" x2="349.20" y2="131.43" stroke="#231f20" stroke-width="0.7"/>
<line x1="347.40" y1="130.41" x2="349.20" y2="130.41" stroke="#231f20" stroke-width="0.7"/>
<line x1="347.40" y1="123.51" x2="349.20" y2="123.51" stroke="#231f20" stroke-width="0.7"/>
<line x1="347.40" y1="120.01" x2="349.20" y2="120.01" stroke="#231f20" stroke-width="0.7"/>
<line x1="347.40" y1="117.52" x2="349.20" y2="117.52" stroke="#231f20" stroke-width="0.7"/>
<line x1="347.40" y1="115.59" x2="349.20" y2="115.59" stroke="#231f20" stroke-width="0.7"/>
<line x1="347.40" y1="114.01" x2="349.20" y2="114.01" stroke="#231f20" stroke-width="0.7"/>
<line x1="347.40" y1="112.68" x2="349.20" y2="112.68" stroke="#231f20" stroke-width="0.7"/>
<line x1="347.40" y1="111.53" x2="349.20" y2="111.53" stroke="#231f20" stroke-width="0.7"/>
<line x1="347.40" y1="110.51" x2="349.20" y2="110.51" stroke="#231f20" stroke-width="0.7"/>
<line x1="346.40" y1="189.20" x2="349.20" y2="189.20" stroke="#231f20" stroke-width="0.9"/>
<text x="340.80" y="191.50" font-size="5.21" text-anchor="end" fill="#231f20" stroke="#231f20" stroke-width="0.1" textLength="5.3" lengthAdjust="spacingAndGlyphs">10</text>
<text x="341.00" y="189.40" font-size="3.16" fill="#231f20">0</text>
<line x1="346.40" y1="169.30" x2="349.20" y2="169.30" stroke="#231f20" stroke-width="0.9"/>
<text x="340.80" y="171.60" font-size="5.21" text-anchor="end" fill="#231f20" stroke="#231f20" stroke-width="0.1" textLength="5.3" lengthAdjust="spacingAndGlyphs">10</text>
<text x="341.00" y="169.50" font-size="3.16" fill="#231f20">1</text>
<line x1="346.40" y1="149.40" x2="349.20" y2="149.40" stroke="#231f20" stroke-width="0.9"/>
<text x="340.80" y="151.70" font-size="5.21" text-anchor="end" fill="#231f20" stroke="#231f20" stroke-width="0.1" textLength="5.3" lengthAdjust="spacingAndGlyphs">10</text>
<text x="341.00" y="149.60" font-size="3.16" fill="#231f20">2</text>
<line x1="346.40" y1="129.50" x2="349.20" y2="129.50" stroke="#231f20" stroke-width="0.9"/>
<text x="340.80" y="131.80" font-size="5.21" text-anchor="end" fill="#231f20" stroke="#231f20" stroke-width="0.1" textLength="5.3" lengthAdjust="spacingAndGlyphs">10</text>
<text x="341.00" y="129.70" font-size="3.16" fill="#231f20">3</text>
<line x1="346.40" y1="109.60" x2="349.20" y2="109.60" stroke="#231f20" stroke-width="0.9"/>
<text x="340.80" y="111.90" font-size="5.21" text-anchor="end" fill="#231f20" stroke="#231f20" stroke-width="0.1" textLength="5.3" lengthAdjust="spacingAndGlyphs">10</text>
<text x="341.00" y="109.80" font-size="3.16" fill="#231f20">4</text>
<line x1="349.00" y1="189.20" x2="470.80" y2="189.20" stroke="#333" stroke-width="1.2"/>
<line x1="357.00" y1="189.20" x2="357.00" y2="191.00" stroke="#231f20" stroke-width="0.8"/>
<line x1="368.70" y1="189.20" x2="368.70" y2="191.00" stroke="#231f20" stroke-width="0.8"/>
<line x1="380.50" y1="189.20" x2="380.50" y2="191.00" stroke="#231f20" stroke-width="0.8"/>
<line x1="392.30" y1="189.20" x2="392.30" y2="191.00" stroke="#231f20" stroke-width="0.8"/>
<line x1="404.10" y1="189.20" x2="404.10" y2="191.00" stroke="#231f20" stroke-width="0.8"/>
<line x1="416.00" y1="189.20" x2="416.00" y2="191.00" stroke="#231f20" stroke-width="0.8"/>
<line x1="427.80" y1="189.20" x2="427.80" y2="191.00" stroke="#231f20" stroke-width="0.8"/>
<line x1="439.60" y1="189.20" x2="439.60" y2="191.00" stroke="#231f20" stroke-width="0.8"/>
<line x1="451.40" y1="189.20" x2="451.40" y2="191.00" stroke="#231f20" stroke-width="0.8"/>
<line x1="463.10" y1="189.20" x2="463.10" y2="191.00" stroke="#231f20" stroke-width="0.8"/>
<text x="359.40" y="198.30" font-size="5.9" text-anchor="end" fill="#231f20" stroke="#231f20" stroke-width="0.1" transform="rotate(-45 359.40 198.30)">APH</text>
<text x="371.10" y="198.30" font-size="5.9" text-anchor="end" fill="#231f20" stroke="#231f20" stroke-width="0.1" transform="rotate(-45 371.10 198.30)">Pre-LD</text>
<text x="382.90" y="198.30" font-size="5.9" text-anchor="end" fill="#231f20" stroke="#231f20" stroke-width="0.1" transform="rotate(-45 382.90 198.30)">D0</text>
<text x="394.70" y="198.30" font-size="5.9" text-anchor="end" fill="#231f20" stroke="#231f20" stroke-width="0.1" transform="rotate(-45 394.70 198.30)">D7</text>
<text x="406.50" y="198.30" font-size="5.9" text-anchor="end" fill="#231f20" stroke="#231f20" stroke-width="0.1" transform="rotate(-45 406.50 198.30)">D14</text>
<text x="418.40" y="198.30" font-size="5.9" text-anchor="end" fill="#231f20" stroke="#231f20" stroke-width="0.1" transform="rotate(-45 418.40 198.30)">D21</text>
<text x="430.20" y="198.30" font-size="5.9" text-anchor="end" fill="#231f20" stroke="#231f20" stroke-width="0.1" transform="rotate(-45 430.20 198.30)">D28</text>
<text x="442.00" y="198.30" font-size="5.9" text-anchor="end" fill="#231f20" stroke="#231f20" stroke-width="0.1" transform="rotate(-45 442.00 198.30)">M2</text>
<text x="453.80" y="198.30" font-size="5.9" text-anchor="end" fill="#231f20" stroke="#231f20" stroke-width="0.1" transform="rotate(-45 453.80 198.30)">M3</text>
<text x="465.50" y="198.30" font-size="5.9" text-anchor="end" fill="#231f20" stroke="#231f20" stroke-width="0.1" transform="rotate(-45 465.50 198.30)">M6</text>
<text x="410.60" y="221.30" font-size="8.37" text-anchor="middle" fill="#222" stroke="#222" stroke-width="0.1" textLength="51.7" lengthAdjust="spacingAndGlyphs">Time of assessment</text>
<text x="329.40" y="146.70" font-size="5.9" text-anchor="middle" fill="#231f20" stroke="#231f20" stroke-width="0.1" textLength="49.2" lengthAdjust="spacingAndGlyphs" transform="rotate(-90 329.40 146.70)">ctDNA (copies/mL)</text>
<polyline points="357.00,121.14 380.50,108.41 392.30,110.99 404.10,116.37 416.00,122.93 427.80,124.52 451.40,147.61 463.10,162.73" fill="none" stroke="#5aa632" stroke-width="1.1" stroke-linejoin="round"/>
<rect x="355.40" y="119.54" width="3.20" height="3.20" fill="#5aa632"/>
<rect x="378.90" y="106.81" width="3.20" height="3.20" fill="#5aa632"/>
<rect x="390.70" y="109.39" width="3.20" height="3.20" fill="#5aa632"/>
<rect x="402.50" y="114.77" width="3.20" height="3.20" fill="#5aa632"/>
<rect x="414.40" y="121.33" width="3.20" height="3.20" fill="#5aa632"/>
<rect x="426.20" y="122.92" width="3.20" height="3.20" fill="#5aa632"/>
<rect x="449.80" y="146.01" width="3.20" height="3.20" fill="#5aa632"/>
<rect x="461.50" y="161.13" width="3.20" height="3.20" fill="#5aa632"/>
<polyline points="368.70,151.79 380.50,189.20 392.30,189.20 404.10,189.20 416.00,189.20 427.80,189.20 451.40,189.20" fill="none" stroke="#b52234" stroke-width="1.4" stroke-linejoin="round"/>
<path d="M368.70,149.99L370.50,153.23L366.90,153.23Z" fill="#b52234"/>
<path d="M378.90,189.20L380.50,187.60L382.10,189.20L380.50,190.80Z" fill="#b52234"/>
<path d="M390.70,189.20L392.30,187.60L393.90,189.20L392.30,190.80Z" fill="#b52234"/>
<path d="M402.50,189.20L404.10,187.60L405.70,189.20L404.10,190.80Z" fill="#b52234"/>
<path d="M414.40,189.20L416.00,187.60L417.60,189.20L416.00,190.80Z" fill="#b52234"/>
<path d="M426.20,189.20L427.80,187.60L429.40,189.20L427.80,190.80Z" fill="#b52234"/>
<path d="M449.80,189.20L451.40,187.60L453.00,189.20L451.40,190.80Z" fill="#b52234"/>
<polyline points="368.70,144.42 380.50,153.38 392.30,175.27 404.10,169.30 416.00,189.20 427.80,187.81 439.60,184.22 451.40,184.22 463.10,189.20" fill="none" stroke="#2b4a90" stroke-width="1.1" stroke-linejoin="round"/>
<path d="M367.00,144.42L368.70,142.72L370.40,144.42L368.70,146.12Z" fill="#2b4a90"/>
<path d="M378.80,153.38L380.50,151.68L382.20,153.38L380.50,155.08Z" fill="#2b4a90"/>
<path d="M390.60,175.27L392.30,173.57L394.00,175.27L392.30,176.97Z" fill="#2b4a90"/>
<path d="M402.40,169.30L404.10,167.60L405.80,169.30L404.10,171.00Z" fill="#2b4a90"/>
<path d="M414.30,189.20L416.00,187.50L417.70,189.20L416.00,190.90Z" fill="#2b4a90"/>
<path d="M426.10,187.81L427.80,186.11L429.50,187.81L427.80,189.51Z" fill="#2b4a90"/>
<path d="M437.90,184.22L439.60,182.53L441.30,184.22L439.60,185.92Z" fill="#2b4a90"/>
<path d="M449.70,184.22L451.40,182.53L453.10,184.22L451.40,185.92Z" fill="#2b4a90"/>
<path d="M461.40,189.20L463.10,187.50L464.80,189.20L463.10,190.90Z" fill="#2b4a90"/>
<line x1="437.80" y1="107.00" x2="442.40" y2="107.00" stroke="#2b4a90" stroke-width="0.8"/>
<path d="M438.90,107.00L440.10,105.80L441.30,107.00L440.10,108.20Z" fill="#2b4a90"/>
<text x="445.80" y="108.50" font-size="4.25" fill="#333" textLength="17.6" lengthAdjust="spacingAndGlyphs">Patient 1</text>
<line x1="437.80" y1="114.70" x2="442.40" y2="114.70" stroke="#5aa632" stroke-width="0.8"/>
<rect x="439.00" y="113.60" width="2.20" height="2.20" fill="#5aa632"/>
<text x="445.80" y="116.20" font-size="4.25" fill="#333" textLength="17.6" lengthAdjust="spacingAndGlyphs">Patient 2</text>
<line x1="437.80" y1="122.40" x2="442.40" y2="122.40" stroke="#b52234" stroke-width="0.8"/>
<path d="M440.10,121.20L441.30,123.36L438.90,123.36Z" fill="#b52234"/>
<text x="445.80" y="123.90" font-size="4.25" fill="#333" textLength="17.6" lengthAdjust="spacingAndGlyphs">Patient 3</text>
<text x="86.20" y="248.80" font-size="8.23" text-anchor="middle" fill="#231f20" stroke="#231f20" stroke-width="0.1" textLength="30.0" lengthAdjust="spacingAndGlyphs">Patient 1</text>
<text x="14.70" y="292.90" font-size="8.09" text-anchor="middle" fill="#231f20" stroke="#231f20" stroke-width="0.1" textLength="61.2" lengthAdjust="spacingAndGlyphs" transform="rotate(-90 14.70 292.90)">CAR+ cells/µL of blood</text>
<polyline points="40.50,331.20 42.90,312.90 46.00,284.80 52.50,287.70 58.70,323.20 87.40,330.70 114.30,331.00" fill="none" stroke="#c0283a" stroke-width="1.1" stroke-linejoin="round"/>
<path d="M42.00,312.90L42.90,312.00L43.80,312.90L42.90,313.80Z" fill="#c0283a"/>
<path d="M45.10,284.80L46.00,283.90L46.90,284.80L46.00,285.70Z" fill="#c0283a"/>
<path d="M51.60,287.70L52.50,286.80L53.40,287.70L52.50,288.60Z" fill="#c0283a"/>
<path d="M57.80,323.20L58.70,322.30L59.60,323.20L58.70,324.10Z" fill="#c0283a"/>
<path d="M86.50,330.70L87.40,329.80L88.30,330.70L87.40,331.60Z" fill="#c0283a"/>
<path d="M113.40,331.00L114.30,330.10L115.20,331.00L114.30,331.90Z" fill="#c0283a"/>
<polyline points="40.50,331.20 42.90,309.70 46.00,283.90 52.50,286.40 58.70,322.80 87.40,330.50 114.30,331.00" fill="none" stroke="#4f5675" stroke-width="1.1" stroke-linejoin="round"/>
<path d="M42.00,309.70L42.90,308.80L43.80,309.70L42.90,310.60Z" fill="#4f5675"/>
<path d="M45.10,283.90L46.00,283.00L46.90,283.90L46.00,284.80Z" fill="#4f5675"/>
<path d="M51.60,286.40L52.50,285.50L53.40,286.40L52.50,287.30Z" fill="#4f5675"/>
<path d="M57.80,322.80L58.70,321.90L59.60,322.80L58.70,323.70Z" fill="#4f5675"/>
<path d="M86.50,330.50L87.40,329.60L88.30,330.50L87.40,331.40Z" fill="#4f5675"/>
<path d="M113.40,331.00L114.30,330.10L115.20,331.00L114.30,331.90Z" fill="#4f5675"/>
<polyline points="40.50,331.20 42.90,328.20 46.00,330.50 52.50,329.50 58.70,331.00 114.30,331.20" fill="none" stroke="#23448f" stroke-width="1.1" stroke-linejoin="round"/>
<path d="M42.00,328.20L42.90,327.30L43.80,328.20L42.90,329.10Z" fill="#23448f"/>
<path d="M45.10,330.50L46.00,329.60L46.90,330.50L46.00,331.40Z" fill="#23448f"/>
<path d="M51.60,329.50L52.50,328.60L53.40,329.50L52.50,330.40Z" fill="#23448f"/>
<path d="M57.80,331.00L58.70,330.10L59.60,331.00L58.70,331.90Z" fill="#23448f"/>
<path d="M113.40,331.20L114.30,330.30L115.20,331.20L114.30,332.10Z" fill="#23448f"/>
<polyline points="40.50,331.20 42.90,330.00 46.00,326.70 52.50,331.00 58.70,331.20" fill="none" stroke="#f2b400" stroke-width="1.1" stroke-linejoin="round"/>
<path d="M42.00,330.00L42.90,329.10L43.80,330.00L42.90,330.90Z" fill="#f2b400"/>
<path d="M45.10,326.70L46.00,325.80L46.90,326.70L46.00,327.60Z" fill="#f2b400"/>
<path d="M51.60,331.00L52.50,330.10L53.40,331.00L52.50,331.90Z" fill="#f2b400"/>
<path d="M57.80,331.20L58.70,330.30L59.60,331.20L58.70,332.10Z" fill="#f2b400"/>
<polyline points="40.50,331.20 42.90,331.00 46.00,331.20 52.50,330.60 58.70,331.20" fill="none" stroke="#4b1b6b" stroke-width="1.1" stroke-linejoin="round"/>
<path d="M42.00,331.00L42.90,330.10L43.80,331.00L42.90,331.90Z" fill="#4b1b6b"/>
<path d="M45.10,331.20L46.00,330.30L46.90,331.20L46.00,332.10Z" fill="#4b1b6b"/>
<path d="M51.60,330.60L52.50,329.70L53.40,330.60L52.50,331.50Z" fill="#4b1b6b"/>
<path d="M57.80,331.20L58.70,330.30L59.60,331.20L58.70,332.10Z" fill="#4b1b6b"/>
<polyline points="40.50,331.20 42.90,329.00 46.00,331.00 52.50,330.00 58.70,331.20" fill="none" stroke="#5ba8e6" stroke-width="1.1" stroke-linejoin="round"/>
<path d="M42.00,329.00L42.90,328.10L43.80,329.00L42.90,329.90Z" fill="#5ba8e6"/>
<path d="M45.10,331.00L46.00,330.10L46.90,331.00L46.00,331.90Z" fill="#5ba8e6"/>
<path d="M51.60,330.00L52.50,329.10L53.40,330.00L52.50,330.90Z" fill="#5ba8e6"/>
<path d="M57.80,331.20L58.70,330.30L59.60,331.20L58.70,332.10Z" fill="#5ba8e6"/>
<polyline points="117.60,330.60 137.60,331.00" fill="none" stroke="#4f5675" stroke-width="1.1" stroke-linejoin="round"/>
<path d="M136.70,331.00L137.60,330.10L138.50,331.00L137.60,331.90Z" fill="#4f5675"/>
<polyline points="117.60,331.00 137.60,331.00" fill="none" stroke="#23448f" stroke-width="1.1" stroke-linejoin="round"/>
<path d="M136.70,331.00L137.60,330.10L138.50,331.00L137.60,331.90Z" fill="#23448f"/>
<line x1="34.20" y1="255.00" x2="34.20" y2="275.20" stroke="#231f20" stroke-width="1.0"/>
<line x1="34.20" y1="278.60" x2="34.20" y2="331.70" stroke="#231f20" stroke-width="1.0"/>
<line x1="31.60" y1="275.20" x2="37.00" y2="275.20" stroke="#231f20" stroke-width="0.9"/>
<line x1="31.60" y1="278.60" x2="37.00" y2="278.60" stroke="#231f20" stroke-width="0.9"/>
<line x1="31.60" y1="269.40" x2="34.20" y2="269.40" stroke="#231f20" stroke-width="0.8"/>
<text x="27.90" y="271.30" font-size="5.35" text-anchor="end" fill="#231f20" stroke="#231f20" stroke-width="0.1" textLength="8.7" lengthAdjust="spacingAndGlyphs">200</text>
<line x1="31.60" y1="263.55" x2="34.20" y2="263.55" stroke="#231f20" stroke-width="0.8"/>
<text x="27.90" y="265.45" font-size="5.35" text-anchor="end" fill="#231f20" stroke="#231f20" stroke-width="0.1" textLength="8.7" lengthAdjust="spacingAndGlyphs">300</text>
<line x1="31.60" y1="257.70" x2="34.20" y2="257.70" stroke="#231f20" stroke-width="0.8"/>
<text x="27.90" y="259.60" font-size="5.35" text-anchor="end" fill="#231f20" stroke="#231f20" stroke-width="0.1" textLength="8.7" lengthAdjust="spacingAndGlyphs">400</text>
<line x1="32.70" y1="272.32" x2="34.20" y2="272.32" stroke="#231f20" stroke-width="0.6"/>
<line x1="32.70" y1="266.47" x2="34.20" y2="266.47" stroke="#231f20" stroke-width="0.6"/>
<line x1="32.70" y1="260.62" x2="34.20" y2="260.62" stroke="#231f20" stroke-width="0.6"/>
<line x1="31.60" y1="331.20" x2="34.20" y2="331.20" stroke="#231f20" stroke-width="0.8"/>
<text x="27.90" y="333.10" font-size="5.35" text-anchor="end" fill="#231f20" stroke="#231f20" stroke-width="0.1" textLength="2.9" lengthAdjust="spacingAndGlyphs">0</text>
<line x1="31.60" y1="318.05" x2="34.20" y2="318.05" stroke="#231f20" stroke-width="0.8"/>
<text x="27.90" y="319.95" font-size="5.35" text-anchor="end" fill="#231f20" stroke="#231f20" stroke-width="0.1" textLength="5.8" lengthAdjust="spacingAndGlyphs">25</text>
<line x1="31.60" y1="304.90" x2="34.20" y2="304.90" stroke="#231f20" stroke-width="0.8"/>
<text x="27.90" y="306.80" font-size="5.35" text-anchor="end" fill="#231f20" stroke="#231f20" stroke-width="0.1" textLength="5.8" lengthAdjust="spacingAndGlyphs">50</text>
<line x1="31.60" y1="291.75" x2="34.20" y2="291.75" stroke="#231f20" stroke-width="0.8"/>
<text x="27.90" y="293.65" font-size="5.35" text-anchor="end" fill="#231f20" stroke="#231f20" stroke-width="0.1" textLength="5.8" lengthAdjust="spacingAndGlyphs">75</text>
<line x1="31.60" y1="278.60" x2="34.20" y2="278.60" stroke="#231f20" stroke-width="0.8"/>
<text x="27.90" y="280.50" font-size="5.35" text-anchor="end" fill="#231f20" stroke="#231f20" stroke-width="0.1" textLength="8.7" lengthAdjust="spacingAndGlyphs">100</text>
<line x1="34.20" y1="331.20" x2="114.30" y2="331.20" stroke="#231f20" stroke-width="1.1"/>
<line x1="117.50" y1="331.20" x2="147.60" y2="331.20" stroke="#231f20" stroke-width="1.1"/>
<line x1="114.30" y1="328.20" x2="114.30" y2="334.40" stroke="#231f20" stroke-width="0.9"/>
<line x1="117.50" y1="328.20" x2="117.50" y2="334.40" stroke="#231f20" stroke-width="0.9"/>
<line x1="34.20" y1="331.20" x2="34.20" y2="333.20" stroke="#231f20" stroke-width="0.7"/>
<line x1="43.10" y1="331.20" x2="43.10" y2="333.20" stroke="#231f20" stroke-width="0.7"/>
<line x1="52.00" y1="331.20" x2="52.00" y2="333.20" stroke="#231f20" stroke-width="0.7"/>
<line x1="60.90" y1="331.20" x2="60.90" y2="333.20" stroke="#231f20" stroke-width="0.7"/>
<line x1="69.80" y1="331.20" x2="69.80" y2="333.20" stroke="#231f20" stroke-width="0.7"/>
<line x1="78.70" y1="331.20" x2="78.70" y2="333.20" stroke="#231f20" stroke-width="0.7"/>
<line x1="87.60" y1="331.20" x2="87.60" y2="333.20" stroke="#231f20" stroke-width="0.7"/>
<line x1="96.50" y1="331.20" x2="96.50" y2="333.20" stroke="#231f20" stroke-width="0.7"/>
<line x1="105.40" y1="331.20" x2="105.40" y2="333.20" stroke="#231f20" stroke-width="0.7"/>
<line x1="114.30" y1="331.20" x2="114.30" y2="333.20" stroke="#231f20" stroke-width="0.7"/>
<line x1="124.30" y1="331.20" x2="124.30" y2="333.20" stroke="#231f20" stroke-width="0.7"/>
<line x1="130.95" y1="331.20" x2="130.95" y2="333.20" stroke="#231f20" stroke-width="0.7"/>
<line x1="137.60" y1="331.20" x2="137.60" y2="333.20" stroke="#231f20" stroke-width="0.7"/>
<line x1="144.25" y1="331.20" x2="144.25" y2="333.20" stroke="#231f20" stroke-width="0.7"/>
<text x="34.20" y="341.90" font-size="5.35" text-anchor="middle" fill="#231f20" stroke="#231f20" stroke-width="0.1" textLength="2.9" lengthAdjust="spacingAndGlyphs">0</text>
<text x="60.90" y="341.90" font-size="5.35" text-anchor="middle" fill="#231f20" stroke="#231f20" stroke-width="0.1" textLength="5.8" lengthAdjust="spacingAndGlyphs">30</text>
<text x="87.60" y="341.90" font-size="5.35" text-anchor="middle" fill="#231f20" stroke="#231f20" stroke-width="0.1" textLength="5.8" lengthAdjust="spacingAndGlyphs">60</text>
<text x="114.30" y="341.90" font-size="5.35" text-anchor="middle" fill="#231f20" stroke="#231f20" stroke-width="0.1" textLength="5.8" lengthAdjust="spacingAndGlyphs">90</text>
<text x="124.50" y="341.90" font-size="5.35" text-anchor="middle" fill="#231f20" stroke="#231f20" stroke-width="0.1" textLength="8.7" lengthAdjust="spacingAndGlyphs">120</text>
<text x="137.80" y="341.90" font-size="5.35" text-anchor="middle" fill="#231f20" stroke="#231f20" stroke-width="0.1" textLength="8.7" lengthAdjust="spacingAndGlyphs">180</text>
<line x1="117.20" y1="262.90" x2="122.60" y2="262.90" stroke="#4f5675" stroke-width="1.2"/>
<path d="M118.60,262.90L119.90,261.60L121.20,262.90L119.90,264.20Z" fill="#4f5675"/>
<text x="125.20" y="264.50" font-size="4.53" fill="#333" textLength="27.2" lengthAdjust="spacingAndGlyphs">CAR22 - Total</text>
<line x1="117.20" y1="269.10" x2="122.60" y2="269.10" stroke="#c0283a" stroke-width="1.2"/>
<path d="M118.60,269.10L119.90,267.80L121.20,269.10L119.90,270.40Z" fill="#c0283a"/>
<text x="125.20" y="270.70" font-size="4.53" fill="#333" textLength="29.2" lengthAdjust="spacingAndGlyphs">CAR22 - CD8+</text>
<line x1="117.20" y1="275.30" x2="122.60" y2="275.30" stroke="#23448f" stroke-width="1.2"/>
<path d="M118.60,275.30L119.90,274.00L121.20,275.30L119.90,276.60Z" fill="#23448f"/>
<text x="125.20" y="276.90" font-size="4.53" fill="#333" textLength="29.2" lengthAdjust="spacingAndGlyphs">CAR22 - CD4+</text>
<line x1="117.20" y1="286.50" x2="122.60" y2="286.50" stroke="#f2b400" stroke-width="1.2"/>
<path d="M118.60,286.50L119.90,285.20L121.20,286.50L119.90,287.80Z" fill="#f2b400"/>
<text x="125.20" y="288.10" font-size="4.53" fill="#333" textLength="27.2" lengthAdjust="spacingAndGlyphs">CAR19 - Total</text>
<line x1="117.20" y1="293.00" x2="122.60" y2="293.00" stroke="#4b1b6b" stroke-width="1.2"/>
<path d="M118.60,293.00L119.90,291.70L121.20,293.00L119.90,294.30Z" fill="#4b1b6b"/>
<text x="125.20" y="294.60" font-size="4.53" fill="#333" textLength="29.2" lengthAdjust="spacingAndGlyphs">CAR19 - CD8+</text>
<line x1="117.20" y1="299.00" x2="122.60" y2="299.00" stroke="#5ba8e6" stroke-width="1.2"/>
<path d="M118.60,299.00L119.90,297.70L121.20,299.00L119.90,300.30Z" fill="#5ba8e6"/>
<text x="125.20" y="300.60" font-size="4.53" fill="#333" textLength="29.2" lengthAdjust="spacingAndGlyphs">CAR19 - CD4+</text>
<text x="261.85" y="248.80" font-size="8.23" text-anchor="middle" fill="#231f20" stroke="#231f20" stroke-width="0.1" textLength="30.3" lengthAdjust="spacingAndGlyphs">Patient 2</text>
<text x="186.20" y="292.90" font-size="8.09" text-anchor="middle" fill="#231f20" stroke="#231f20" stroke-width="0.1" textLength="61.2" lengthAdjust="spacingAndGlyphs" transform="rotate(-90 186.20 292.90)">CAR+ cells/µL of blood</text>
<polyline points="211.10,331.30 213.80,312.00 217.50,296.90 223.80,320.80 229.80,315.00 285.40,330.80" fill="none" stroke="#c0283a" stroke-width="1.1" stroke-linejoin="round"/>
<path d="M212.90,312.00L213.80,311.10L214.70,312.00L213.80,312.90Z" fill="#c0283a"/>
<path d="M216.60,296.90L217.50,296.00L218.40,296.90L217.50,297.80Z" fill="#c0283a"/>
<path d="M222.90,320.80L223.80,319.90L224.70,320.80L223.80,321.70Z" fill="#c0283a"/>
<path d="M228.90,315.00L229.80,314.10L230.70,315.00L229.80,315.90Z" fill="#c0283a"/>
<path d="M284.50,330.80L285.40,329.90L286.30,330.80L285.40,331.70Z" fill="#c0283a"/>
<polyline points="211.10,331.30 213.80,306.80 217.50,286.30 223.80,318.70 229.80,308.50 285.40,330.60" fill="none" stroke="#4f5675" stroke-width="1.1" stroke-linejoin="round"/>
<path d="M212.90,306.80L213.80,305.90L214.70,306.80L213.80,307.70Z" fill="#4f5675"/>
<path d="M216.60,286.30L217.50,285.40L218.40,286.30L217.50,287.20Z" fill="#4f5675"/>
<path d="M222.90,318.70L223.80,317.80L224.70,318.70L223.80,319.60Z" fill="#4f5675"/>
<path d="M228.90,308.50L229.80,307.60L230.70,308.50L229.80,309.40Z" fill="#4f5675"/>
<path d="M284.50,330.60L285.40,329.70L286.30,330.60L285.40,331.50Z" fill="#4f5675"/>
<polyline points="211.10,331.30 213.80,326.10 217.50,320.60 223.80,329.20 229.80,324.90 285.40,331.00" fill="none" stroke="#23448f" stroke-width="1.1" stroke-linejoin="round"/>
<path d="M212.90,326.10L213.80,325.20L214.70,326.10L213.80,327.00Z" fill="#23448f"/>
<path d="M216.60,320.60L217.50,319.70L218.40,320.60L217.50,321.50Z" fill="#23448f"/>
<path d="M222.90,329.20L223.80,328.30L224.70,329.20L223.80,330.10Z" fill="#23448f"/>
<path d="M228.90,324.90L229.80,324.00L230.70,324.90L229.80,325.80Z" fill="#23448f"/>
<path d="M284.50,331.00L285.40,330.10L286.30,331.00L285.40,331.90Z" fill="#23448f"/>
<polyline points="288.60,330.60 308.60,327.80" fill="none" stroke="#c0283a" stroke-width="1.1" stroke-linejoin="round"/>
<path d="M307.70,327.80L308.60,326.90L309.50,327.80L308.60,328.70Z" fill="#c0283a"/>
<polyline points="288.60,330.50 308.60,326.40" fill="none" stroke="#4f5675" stroke-width="1.1" stroke-linejoin="round"/>
<path d="M307.70,326.40L308.60,325.50L309.50,326.40L308.60,327.30Z" fill="#4f5675"/>
<polyline points="288.60,331.00 308.60,330.50" fill="none" stroke="#23448f" stroke-width="1.1" stroke-linejoin="round"/>
<path d="M307.70,330.50L308.60,329.60L309.50,330.50L308.60,331.40Z" fill="#23448f"/>
<line x1="205.30" y1="255.00" x2="205.30" y2="275.20" stroke="#231f20" stroke-width="1.0"/>
<line x1="205.30" y1="278.60" x2="205.30" y2="331.70" stroke="#231f20" stroke-width="1.0"/>
<line x1="202.70" y1="275.20" x2="208.10" y2="275.20" stroke="#231f20" stroke-width="0.9"/>
<line x1="202.70" y1="278.60" x2="208.10" y2="278.60" stroke="#231f20" stroke-width="0.9"/>
<line x1="202.70" y1="269.40" x2="205.30" y2="269.40" stroke="#231f20" stroke-width="0.8"/>
<text x="199.00" y="271.30" font-size="5.35" text-anchor="end" fill="#231f20" stroke="#231f20" stroke-width="0.1" textLength="8.7" lengthAdjust="spacingAndGlyphs">200</text>
<line x1="202.70" y1="263.55" x2="205.30" y2="263.55" stroke="#231f20" stroke-width="0.8"/>
<text x="199.00" y="265.45" font-size="5.35" text-anchor="end" fill="#231f20" stroke="#231f20" stroke-width="0.1" textLength="8.7" lengthAdjust="spacingAndGlyphs">300</text>
<line x1="202.70" y1="257.70" x2="205.30" y2="257.70" stroke="#231f20" stroke-width="0.8"/>
<text x="199.00" y="259.60" font-size="5.35" text-anchor="end" fill="#231f20" stroke="#231f20" stroke-width="0.1" textLength="8.7" lengthAdjust="spacingAndGlyphs">400</text>
<line x1="203.80" y1="272.32" x2="205.30" y2="272.32" stroke="#231f20" stroke-width="0.6"/>
<line x1="203.80" y1="266.47" x2="205.30" y2="266.47" stroke="#231f20" stroke-width="0.6"/>
<line x1="203.80" y1="260.62" x2="205.30" y2="260.62" stroke="#231f20" stroke-width="0.6"/>
<line x1="202.70" y1="331.20" x2="205.30" y2="331.20" stroke="#231f20" stroke-width="0.8"/>
<text x="199.00" y="333.10" font-size="5.35" text-anchor="end" fill="#231f20" stroke="#231f20" stroke-width="0.1" textLength="2.9" lengthAdjust="spacingAndGlyphs">0</text>
<line x1="202.70" y1="318.05" x2="205.30" y2="318.05" stroke="#231f20" stroke-width="0.8"/>
<text x="199.00" y="319.95" font-size="5.35" text-anchor="end" fill="#231f20" stroke="#231f20" stroke-width="0.1" textLength="5.8" lengthAdjust="spacingAndGlyphs">25</text>
<line x1="202.70" y1="304.90" x2="205.30" y2="304.90" stroke="#231f20" stroke-width="0.8"/>
<text x="199.00" y="306.80" font-size="5.35" text-anchor="end" fill="#231f20" stroke="#231f20" stroke-width="0.1" textLength="5.8" lengthAdjust="spacingAndGlyphs">50</text>
<line x1="202.70" y1="291.75" x2="205.30" y2="291.75" stroke="#231f20" stroke-width="0.8"/>
<text x="199.00" y="293.65" font-size="5.35" text-anchor="end" fill="#231f20" stroke="#231f20" stroke-width="0.1" textLength="5.8" lengthAdjust="spacingAndGlyphs">75</text>
<line x1="202.70" y1="278.60" x2="205.30" y2="278.60" stroke="#231f20" stroke-width="0.8"/>
<text x="199.00" y="280.50" font-size="5.35" text-anchor="end" fill="#231f20" stroke="#231f20" stroke-width="0.1" textLength="8.7" lengthAdjust="spacingAndGlyphs">100</text>
<line x1="205.30" y1="331.20" x2="285.40" y2="331.20" stroke="#231f20" stroke-width="1.1"/>
<line x1="288.60" y1="331.20" x2="318.70" y2="331.20" stroke="#231f20" stroke-width="1.1"/>
<line x1="285.40" y1="328.20" x2="285.40" y2="334.40" stroke="#231f20" stroke-width="0.9"/>
<line x1="288.60" y1="328.20" x2="288.60" y2="334.40" stroke="#231f20" stroke-width="0.9"/>
<line x1="205.30" y1="331.20" x2="205.30" y2="333.20" stroke="#231f20" stroke-width="0.7"/>
<line x1="214.20" y1="331.20" x2="214.20" y2="333.20" stroke="#231f20" stroke-width="0.7"/>
<line x1="223.10" y1="331.20" x2="223.10" y2="333.20" stroke="#231f20" stroke-width="0.7"/>
<line x1="232.00" y1="331.20" x2="232.00" y2="333.20" stroke="#231f20" stroke-width="0.7"/>
<line x1="240.90" y1="331.20" x2="240.90" y2="333.20" stroke="#231f20" stroke-width="0.7"/>
<line x1="249.80" y1="331.20" x2="249.80" y2="333.20" stroke="#231f20" stroke-width="0.7"/>
<line x1="258.70" y1="331.20" x2="258.70" y2="333.20" stroke="#231f20" stroke-width="0.7"/>
<line x1="267.60" y1="331.20" x2="267.60" y2="333.20" stroke="#231f20" stroke-width="0.7"/>
<line x1="276.50" y1="331.20" x2="276.50" y2="333.20" stroke="#231f20" stroke-width="0.7"/>
<line x1="285.40" y1="331.20" x2="285.40" y2="333.20" stroke="#231f20" stroke-width="0.7"/>
<line x1="295.40" y1="331.20" x2="295.40" y2="333.20" stroke="#231f20" stroke-width="0.7"/>
<line x1="302.05" y1="331.20" x2="302.05" y2="333.20" stroke="#231f20" stroke-width="0.7"/>
<line x1="308.70" y1="331.20" x2="308.70" y2="333.20" stroke="#231f20" stroke-width="0.7"/>
<line x1="315.35" y1="331.20" x2="315.35" y2="333.20" stroke="#231f20" stroke-width="0.7"/>
<text x="205.30" y="341.90" font-size="5.35" text-anchor="middle" fill="#231f20" stroke="#231f20" stroke-width="0.1" textLength="2.9" lengthAdjust="spacingAndGlyphs">0</text>
<text x="232.00" y="341.90" font-size="5.35" text-anchor="middle" fill="#231f20" stroke="#231f20" stroke-width="0.1" textLength="5.8" lengthAdjust="spacingAndGlyphs">30</text>
<text x="258.70" y="341.90" font-size="5.35" text-anchor="middle" fill="#231f20" stroke="#231f20" stroke-width="0.1" textLength="5.8" lengthAdjust="spacingAndGlyphs">60</text>
<text x="285.40" y="341.90" font-size="5.35" text-anchor="middle" fill="#231f20" stroke="#231f20" stroke-width="0.1" textLength="5.8" lengthAdjust="spacingAndGlyphs">90</text>
<text x="295.60" y="341.90" font-size="5.35" text-anchor="middle" fill="#231f20" stroke="#231f20" stroke-width="0.1" textLength="8.7" lengthAdjust="spacingAndGlyphs">120</text>
<text x="308.90" y="341.90" font-size="5.35" text-anchor="middle" fill="#231f20" stroke="#231f20" stroke-width="0.1" textLength="8.7" lengthAdjust="spacingAndGlyphs">180</text>
<line x1="288.50" y1="262.90" x2="293.90" y2="262.90" stroke="#4f5675" stroke-width="1.2"/>
<path d="M289.90,262.90L291.20,261.60L292.50,262.90L291.20,264.20Z" fill="#4f5675"/>
<text x="296.50" y="264.50" font-size="4.53" fill="#333" textLength="27.2" lengthAdjust="spacingAndGlyphs">CAR22 - Total</text>
<line x1="288.50" y1="269.10" x2="293.90" y2="269.10" stroke="#c0283a" stroke-width="1.2"/>
<path d="M289.90,269.10L291.20,267.80L292.50,269.10L291.20,270.40Z" fill="#c0283a"/>
<text x="296.50" y="270.70" font-size="4.53" fill="#333" textLength="29.2" lengthAdjust="spacingAndGlyphs">CAR22 - CD8+</text>
<line x1="288.50" y1="275.30" x2="293.90" y2="275.30" stroke="#23448f" stroke-width="1.2"/>
<path d="M289.90,275.30L291.20,274.00L292.50,275.30L291.20,276.60Z" fill="#23448f"/>
<text x="296.50" y="276.90" font-size="4.53" fill="#333" textLength="29.2" lengthAdjust="spacingAndGlyphs">CAR22 - CD4+</text>
<text x="431.85" y="248.80" font-size="8.23" text-anchor="middle" fill="#231f20" stroke="#231f20" stroke-width="0.1" textLength="30.3" lengthAdjust="spacingAndGlyphs">Patient 3</text>
<text x="357.40" y="292.90" font-size="8.09" text-anchor="middle" fill="#231f20" stroke="#231f20" stroke-width="0.1" textLength="61.2" lengthAdjust="spacingAndGlyphs" transform="rotate(-90 357.40 292.90)">CAR+ cells/µL of blood</text>
<polyline points="376.80,331.20 382.60,330.40 385.00,330.00 388.70,264.80 395.60,260.60 401.50,289.50 429.60,324.90 456.90,331.00" fill="none" stroke="#c0283a" stroke-width="1.1" stroke-linejoin="round"/>
<path d="M381.70,330.40L382.60,329.50L383.50,330.40L382.60,331.30Z" fill="#c0283a"/>
<path d="M384.10,330.00L385.00,329.10L385.90,330.00L385.00,330.90Z" fill="#c0283a"/>
<path d="M387.80,264.80L388.70,263.90L389.60,264.80L388.70,265.70Z" fill="#c0283a"/>
<path d="M394.70,260.60L395.60,259.70L396.50,260.60L395.60,261.50Z" fill="#c0283a"/>
<path d="M400.60,289.50L401.50,288.60L402.40,289.50L401.50,290.40Z" fill="#c0283a"/>
<path d="M428.70,324.90L429.60,324.00L430.50,324.90L429.60,325.80Z" fill="#c0283a"/>
<path d="M456.00,331.00L456.90,330.10L457.80,331.00L456.90,331.90Z" fill="#c0283a"/>
<polyline points="376.80,331.20 382.60,330.00 385.00,329.50 388.70,263.60 395.60,260.20 401.50,289.10 429.60,324.70 456.90,331.00" fill="none" stroke="#4f5675" stroke-width="1.1" stroke-linejoin="round"/>
<path d="M381.70,330.00L382.60,329.10L383.50,330.00L382.60,330.90Z" fill="#4f5675"/>
<path d="M384.10,329.50L385.00,328.60L385.90,329.50L385.00,330.40Z" fill="#4f5675"/>
<path d="M387.80,263.60L388.70,262.70L389.60,263.60L388.70,264.50Z" fill="#4f5675"/>
<path d="M394.70,260.20L395.60,259.30L396.50,260.20L395.60,261.10Z" fill="#4f5675"/>
<path d="M400.60,289.10L401.50,288.20L402.40,289.10L401.50,290.00Z" fill="#4f5675"/>
<path d="M428.70,324.70L429.60,323.80L430.50,324.70L429.60,325.60Z" fill="#4f5675"/>
<path d="M456.00,331.00L456.90,330.10L457.80,331.00L456.90,331.90Z" fill="#4f5675"/>
<polyline points="376.80,331.20 382.60,331.00 385.00,330.50 388.70,317.60 395.60,327.80 401.50,331.00 456.90,331.20" fill="none" stroke="#23448f" stroke-width="1.1" stroke-linejoin="round"/>
<path d="M381.70,331.00L382.60,330.10L383.50,331.00L382.60,331.90Z" fill="#23448f"/>
<path d="M384.10,330.50L385.00,329.60L385.90,330.50L385.00,331.40Z" fill="#23448f"/>
<path d="M387.80,317.60L388.70,316.70L389.60,317.60L388.70,318.50Z" fill="#23448f"/>
<path d="M394.70,327.80L395.60,326.90L396.50,327.80L395.60,328.70Z" fill="#23448f"/>
<path d="M400.60,331.00L401.50,330.10L402.40,331.00L401.50,331.90Z" fill="#23448f"/>
<path d="M456.00,331.20L456.90,330.30L457.80,331.20L456.90,332.10Z" fill="#23448f"/>
<polyline points="376.80,331.20 382.60,327.80 385.00,330.50 388.70,331.40 395.60,331.40 401.50,331.20" fill="none" stroke="#f2b400" stroke-width="1.1" stroke-linejoin="round"/>
<path d="M381.70,327.80L382.60,326.90L383.50,327.80L382.60,328.70Z" fill="#f2b400"/>
<path d="M384.10,330.50L385.00,329.60L385.90,330.50L385.00,331.40Z" fill="#f2b400"/>
<path d="M387.80,331.40L388.70,330.50L389.60,331.40L388.70,332.30Z" fill="#f2b400"/>
<path d="M394.70,331.40L395.60,330.50L396.50,331.40L395.60,332.30Z" fill="#f2b400"/>
<path d="M400.60,331.20L401.50,330.30L402.40,331.20L401.50,332.10Z" fill="#f2b400"/>
<polyline points="376.80,331.20 382.60,330.50 385.00,329.80 388.70,331.20" fill="none" stroke="#4b1b6b" stroke-width="1.1" stroke-linejoin="round"/>
<path d="M381.70,330.50L382.60,329.60L383.50,330.50L382.60,331.40Z" fill="#4b1b6b"/>
<path d="M384.10,329.80L385.00,328.90L385.90,329.80L385.00,330.70Z" fill="#4b1b6b"/>
<path d="M387.80,331.20L388.70,330.30L389.60,331.20L388.70,332.10Z" fill="#4b1b6b"/>
<polyline points="376.80,331.20 382.60,330.80 385.00,331.00 388.70,331.20" fill="none" stroke="#5ba8e6" stroke-width="1.1" stroke-linejoin="round"/>
<path d="M381.70,330.80L382.60,329.90L383.50,330.80L382.60,331.70Z" fill="#5ba8e6"/>
<path d="M384.10,331.00L385.00,330.10L385.90,331.00L385.00,331.90Z" fill="#5ba8e6"/>
<path d="M387.80,331.20L388.70,330.30L389.60,331.20L388.70,332.10Z" fill="#5ba8e6"/>
<rect x="378.80" y="273.80" width="40.00" height="5.60" fill="#fff"/>
<line x1="376.80" y1="255.00" x2="376.80" y2="275.20" stroke="#231f20" stroke-width="1.0"/>
<line x1="376.80" y1="278.60" x2="376.80" y2="331.70" stroke="#231f20" stroke-width="1.0"/>
<line x1="374.20" y1="275.20" x2="379.60" y2="275.20" stroke="#231f20" stroke-width="0.9"/>
<line x1="374.20" y1="278.60" x2="379.60" y2="278.60" stroke="#231f20" stroke-width="0.9"/>
<line x1="374.20" y1="269.40" x2="376.80" y2="269.40" stroke="#231f20" stroke-width="0.8"/>
<text x="370.50" y="271.30" font-size="5.35" text-anchor="end" fill="#231f20" stroke="#231f20" stroke-width="0.1" textLength="8.7" lengthAdjust="spacingAndGlyphs">200</text>
<line x1="374.20" y1="263.55" x2="376.80" y2="263.55" stroke="#231f20" stroke-width="0.8"/>
<text x="370.50" y="265.45" font-size="5.35" text-anchor="end" fill="#231f20" stroke="#231f20" stroke-width="0.1" textLength="8.7" lengthAdjust="spacingAndGlyphs">300</text>
<line x1="374.20" y1="257.70" x2="376.80" y2="257.70" stroke="#231f20" stroke-width="0.8"/>
<text x="370.50" y="259.60" font-size="5.35" text-anchor="end" fill="#231f20" stroke="#231f20" stroke-width="0.1" textLength="8.7" lengthAdjust="spacingAndGlyphs">400</text>
<line x1="375.30" y1="272.32" x2="376.80" y2="272.32" stroke="#231f20" stroke-width="0.6"/>
<line x1="375.30" y1="266.47" x2="376.80" y2="266.47" stroke="#231f20" stroke-width="0.6"/>
<line x1="375.30" y1="260.62" x2="376.80" y2="260.62" stroke="#231f20" stroke-width="0.6"/>
<line x1="374.20" y1="331.20" x2="376.80" y2="331.20" stroke="#231f20" stroke-width="0.8"/>
<text x="370.50" y="333.10" font-size="5.35" text-anchor="end" fill="#231f20" stroke="#231f20" stroke-width="0.1" textLength="2.9" lengthAdjust="spacingAndGlyphs">0</text>
<line x1="374.20" y1="318.05" x2="376.80" y2="318.05" stroke="#231f20" stroke-width="0.8"/>
<text x="370.50" y="319.95" font-size="5.35" text-anchor="end" fill="#231f20" stroke="#231f20" stroke-width="0.1" textLength="5.8" lengthAdjust="spacingAndGlyphs">25</text>
<line x1="374.20" y1="304.90" x2="376.80" y2="304.90" stroke="#231f20" stroke-width="0.8"/>
<text x="370.50" y="306.80" font-size="5.35" text-anchor="end" fill="#231f20" stroke="#231f20" stroke-width="0.1" textLength="5.8" lengthAdjust="spacingAndGlyphs">50</text>
<line x1="374.20" y1="291.75" x2="376.80" y2="291.75" stroke="#231f20" stroke-width="0.8"/>
<text x="370.50" y="293.65" font-size="5.35" text-anchor="end" fill="#231f20" stroke="#231f20" stroke-width="0.1" textLength="5.8" lengthAdjust="spacingAndGlyphs">75</text>
<line x1="374.20" y1="278.60" x2="376.80" y2="278.60" stroke="#231f20" stroke-width="0.8"/>
<text x="370.50" y="280.50" font-size="5.35" text-anchor="end" fill="#231f20" stroke="#231f20" stroke-width="0.1" textLength="8.7" lengthAdjust="spacingAndGlyphs">100</text>
<line x1="376.80" y1="331.20" x2="456.90" y2="331.20" stroke="#231f20" stroke-width="1.1"/>
<line x1="460.10" y1="331.20" x2="490.20" y2="331.20" stroke="#231f20" stroke-width="1.1"/>
<line x1="456.90" y1="328.20" x2="456.90" y2="334.40" stroke="#231f20" stroke-width="0.9"/>
<line x1="460.10" y1="328.20" x2="460.10" y2="334.40" stroke="#231f20" stroke-width="0.9"/>
<line x1="376.80" y1="331.20" x2="376.80" y2="333.20" stroke="#231f20" stroke-width="0.7"/>
<line x1="385.70" y1="331.20" x2="385.70" y2="333.20" stroke="#231f20" stroke-width="0.7"/>
<line x1="394.60" y1="331.20" x2="394.60" y2="333.20" stroke="#231f20" stroke-width="0.7"/>
<line x1="403.50" y1="331.20" x2="403.50" y2="333.20" stroke="#231f20" stroke-width="0.7"/>
<line x1="412.40" y1="331.20" x2="412.40" y2="333.20" stroke="#231f20" stroke-width="0.7"/>
<line x1="421.30" y1="331.20" x2="421.30" y2="333.20" stroke="#231f20" stroke-width="0.7"/>
<line x1="430.20" y1="331.20" x2="430.20" y2="333.20" stroke="#231f20" stroke-width="0.7"/>
<line x1="439.10" y1="331.20" x2="439.10" y2="333.20" stroke="#231f20" stroke-width="0.7"/>
<line x1="448.00" y1="331.20" x2="448.00" y2="333.20" stroke="#231f20" stroke-width="0.7"/>
<line x1="456.90" y1="331.20" x2="456.90" y2="333.20" stroke="#231f20" stroke-width="0.7"/>
<line x1="466.90" y1="331.20" x2="466.90" y2="333.20" stroke="#231f20" stroke-width="0.7"/>
<line x1="473.55" y1="331.20" x2="473.55" y2="333.20" stroke="#231f20" stroke-width="0.7"/>
<line x1="480.20" y1="331.20" x2="480.20" y2="333.20" stroke="#231f20" stroke-width="0.7"/>
<line x1="486.85" y1="331.20" x2="486.85" y2="333.20" stroke="#231f20" stroke-width="0.7"/>
<text x="376.80" y="341.90" font-size="5.35" text-anchor="middle" fill="#231f20" stroke="#231f20" stroke-width="0.1" textLength="2.9" lengthAdjust="spacingAndGlyphs">0</text>
<text x="403.50" y="341.90" font-size="5.35" text-anchor="middle" fill="#231f20" stroke="#231f20" stroke-width="0.1" textLength="5.8" lengthAdjust="spacingAndGlyphs">30</text>
<text x="430.20" y="341.90" font-size="5.35" text-anchor="middle" fill="#231f20" stroke="#231f20" stroke-width="0.1" textLength="5.8" lengthAdjust="spacingAndGlyphs">60</text>
<text x="456.90" y="341.90" font-size="5.35" text-anchor="middle" fill="#231f20" stroke="#231f20" stroke-width="0.1" textLength="5.8" lengthAdjust="spacingAndGlyphs">90</text>
<text x="467.10" y="341.90" font-size="5.35" text-anchor="middle" fill="#231f20" stroke="#231f20" stroke-width="0.1" textLength="8.7" lengthAdjust="spacingAndGlyphs">120</text>
<text x="480.40" y="341.90" font-size="5.35" text-anchor="middle" fill="#231f20" stroke="#231f20" stroke-width="0.1" textLength="8.7" lengthAdjust="spacingAndGlyphs">180</text>
<line x1="459.70" y1="262.90" x2="465.10" y2="262.90" stroke="#4f5675" stroke-width="1.2"/>
<path d="M461.10,262.90L462.40,261.60L463.70,262.90L462.40,264.20Z" fill="#4f5675"/>
<text x="467.70" y="264.50" font-size="4.53" fill="#333" textLength="27.2" lengthAdjust="spacingAndGlyphs">CAR22 - Total</text>
<line x1="459.70" y1="269.10" x2="465.10" y2="269.10" stroke="#c0283a" stroke-width="1.2"/>
<path d="M461.10,269.10L462.40,267.80L463.70,269.10L462.40,270.40Z" fill="#c0283a"/>
<text x="467.70" y="270.70" font-size="4.53" fill="#333" textLength="29.2" lengthAdjust="spacingAndGlyphs">CAR22 - CD8+</text>
<line x1="459.70" y1="275.30" x2="465.10" y2="275.30" stroke="#23448f" stroke-width="1.2"/>
<path d="M461.10,275.30L462.40,274.00L463.70,275.30L462.40,276.60Z" fill="#23448f"/>
<text x="467.70" y="276.90" font-size="4.53" fill="#333" textLength="29.2" lengthAdjust="spacingAndGlyphs">CAR22 - CD4+</text>
<line x1="459.70" y1="286.50" x2="465.10" y2="286.50" stroke="#f2b400" stroke-width="1.2"/>
<path d="M461.10,286.50L462.40,285.20L463.70,286.50L462.40,287.80Z" fill="#f2b400"/>
<text x="467.70" y="288.10" font-size="4.53" fill="#333" textLength="27.2" lengthAdjust="spacingAndGlyphs">CAR19 - Total</text>
<line x1="459.70" y1="293.00" x2="465.10" y2="293.00" stroke="#4b1b6b" stroke-width="1.2"/>
<path d="M461.10,293.00L462.40,291.70L463.70,293.00L462.40,294.30Z" fill="#4b1b6b"/>
<text x="467.70" y="294.60" font-size="4.53" fill="#333" textLength="29.2" lengthAdjust="spacingAndGlyphs">CAR19 - CD8+</text>
<line x1="459.70" y1="299.00" x2="465.10" y2="299.00" stroke="#5ba8e6" stroke-width="1.2"/>
<path d="M461.10,299.00L462.40,297.70L463.70,299.00L462.40,300.30Z" fill="#5ba8e6"/>
<text x="467.70" y="300.60" font-size="4.53" fill="#333" textLength="29.2" lengthAdjust="spacingAndGlyphs">CAR19 - CD4+</text>
<text x="13.90" y="416.40" font-size="6.31" text-anchor="middle" fill="#231f20" stroke="#231f20" stroke-width="0.1" textLength="63.0" lengthAdjust="spacingAndGlyphs" transform="rotate(-90 13.90 416.40)">CAR22 copy number/50</text>
<text x="21.60" y="414.30" font-size="6.45" text-anchor="middle" fill="#231f20" stroke="#231f20" stroke-width="0.1" textLength="22.5" lengthAdjust="spacingAndGlyphs" transform="rotate(-90 21.60 414.30)">ng of DNA</text>
<polyline points="48.10,425.00 53.90,381.90 61.70,386.80 78.30,398.70 91.90,418.60 121.40,414.30" fill="none" stroke="#3f4a6e" stroke-width="1.0" stroke-linejoin="round"/>
<circle cx="48.10" cy="425.00" r="0.80" fill="#3f4a6e"/>
<circle cx="53.90" cy="381.90" r="0.80" fill="#3f4a6e"/>
<circle cx="61.70" cy="386.80" r="0.80" fill="#3f4a6e"/>
<circle cx="78.30" cy="398.70" r="0.80" fill="#3f4a6e"/>
<circle cx="91.90" cy="418.60" r="0.80" fill="#3f4a6e"/>
<circle cx="121.40" cy="414.30" r="0.80" fill="#3f4a6e"/>
<polyline points="125.30,418.40 148.00,440.80" fill="none" stroke="#3f4a6e" stroke-width="1.0" stroke-linejoin="round"/>
<circle cx="148.00" cy="440.80" r="0.80" fill="#3f4a6e"/>
<line x1="41.90" y1="378.10" x2="41.90" y2="455.60" stroke="#231f20" stroke-width="1.2"/>
<line x1="39.30" y1="455.10" x2="41.90" y2="455.10" stroke="#231f20" stroke-width="0.9"/>
<text x="34.00" y="456.70" font-size="5.08" text-anchor="end" fill="#231f20" stroke="#231f20" stroke-width="0.1" textLength="5.5" lengthAdjust="spacingAndGlyphs">10</text>
<text x="34.30" y="453.60" font-size="3.29" fill="#231f20">0</text>
<line x1="39.30" y1="436.60" x2="41.90" y2="436.60" stroke="#231f20" stroke-width="0.9"/>
<text x="34.00" y="438.20" font-size="5.08" text-anchor="end" fill="#231f20" stroke="#231f20" stroke-width="0.1" textLength="5.5" lengthAdjust="spacingAndGlyphs">10</text>
<text x="34.30" y="435.10" font-size="3.29" fill="#231f20">1</text>
<line x1="39.30" y1="418.10" x2="41.90" y2="418.10" stroke="#231f20" stroke-width="0.9"/>
<text x="34.00" y="419.70" font-size="5.08" text-anchor="end" fill="#231f20" stroke="#231f20" stroke-width="0.1" textLength="5.5" lengthAdjust="spacingAndGlyphs">10</text>
<text x="34.30" y="416.60" font-size="3.29" fill="#231f20">2</text>
<line x1="39.30" y1="399.60" x2="41.90" y2="399.60" stroke="#231f20" stroke-width="0.9"/>
<text x="34.00" y="401.20" font-size="5.08" text-anchor="end" fill="#231f20" stroke="#231f20" stroke-width="0.1" textLength="5.5" lengthAdjust="spacingAndGlyphs">10</text>
<text x="34.30" y="398.10" font-size="3.29" fill="#231f20">3</text>
<line x1="39.30" y1="381.10" x2="41.90" y2="381.10" stroke="#231f20" stroke-width="0.9"/>
<text x="34.00" y="382.70" font-size="5.08" text-anchor="end" fill="#231f20" stroke="#231f20" stroke-width="0.1" textLength="5.5" lengthAdjust="spacingAndGlyphs">10</text>
<text x="34.30" y="379.60" font-size="3.29" fill="#231f20">4</text>
<line x1="40.30" y1="449.53" x2="41.90" y2="449.53" stroke="#231f20" stroke-width="0.6"/>
<line x1="40.30" y1="446.27" x2="41.90" y2="446.27" stroke="#231f20" stroke-width="0.6"/>
<line x1="40.30" y1="443.96" x2="41.90" y2="443.96" stroke="#231f20" stroke-width="0.6"/>
<line x1="40.30" y1="442.17" x2="41.90" y2="442.17" stroke="#231f20" stroke-width="0.6"/>
<line x1="40.30" y1="440.70" x2="41.90" y2="440.70" stroke="#231f20" stroke-width="0.6"/>
<line x1="40.30" y1="439.47" x2="41.90" y2="439.47" stroke="#231f20" stroke-width="0.6"/>
<line x1="40.30" y1="438.39" x2="41.90" y2="438.39" stroke="#231f20" stroke-width="0.6"/>
<line x1="40.30" y1="437.45" x2="41.90" y2="437.45" stroke="#231f20" stroke-width="0.6"/>
<line x1="40.30" y1="431.03" x2="41.90" y2="431.03" stroke="#231f20" stroke-width="0.6"/>
<line x1="40.30" y1="427.77" x2="41.90" y2="427.77" stroke="#231f20" stroke-width="0.6"/>
<line x1="40.30" y1="425.46" x2="41.90" y2="425.46" stroke="#231f20" stroke-width="0.6"/>
<line x1="40.30" y1="423.67" x2="41.90" y2="423.67" stroke="#231f20" stroke-width="0.6"/>
<line x1="40.30" y1="422.20" x2="41.90" y2="422.20" stroke="#231f20" stroke-width="0.6"/>
<line x1="40.30" y1="420.97" x2="41.90" y2="420.97" stroke="#231f20" stroke-width="0.6"/>
<line x1="40.30" y1="419.89" x2="41.90" y2="419.89" stroke="#231f20" stroke-width="0.6"/>
<line x1="40.30" y1="418.95" x2="41.90" y2="418.95" stroke="#231f20" stroke-width="0.6"/>
<line x1="40.30" y1="412.53" x2="41.90" y2="412.53" stroke="#231f20" stroke-width="0.6"/>
<line x1="40.30" y1="409.27" x2="41.90" y2="409.27" stroke="#231f20" stroke-width="0.6"/>
<line x1="40.30" y1="406.96" x2="41.90" y2="406.96" stroke="#231f20" stroke-width="0.6"/>
<line x1="40.30" y1="405.17" x2="41.90" y2="405.17" stroke="#231f20" stroke-width="0.6"/>
<line x1="40.30" y1="403.70" x2="41.90" y2="403.70" stroke="#231f20" stroke-width="0.6"/>
<line x1="40.30" y1="402.47" x2="41.90" y2="402.47" stroke="#231f20" stroke-width="0.6"/>
<line x1="40.30" y1="401.39" x2="41.90" y2="401.39" stroke="#231f20" stroke-width="0.6"/>
<line x1="40.30" y1="400.45" x2="41.90" y2="400.45" stroke="#231f20" stroke-width="0.6"/>
<line x1="40.30" y1="394.03" x2="41.90" y2="394.03" stroke="#231f20" stroke-width="0.6"/>
<line x1="40.30" y1="390.77" x2="41.90" y2="390.77" stroke="#231f20" stroke-width="0.6"/>
<line x1="40.30" y1="388.46" x2="41.90" y2="388.46" stroke="#231f20" stroke-width="0.6"/>
<line x1="40.30" y1="386.67" x2="41.90" y2="386.67" stroke="#231f20" stroke-width="0.6"/>
<line x1="40.30" y1="385.20" x2="41.90" y2="385.20" stroke="#231f20" stroke-width="0.6"/>
<line x1="40.30" y1="383.97" x2="41.90" y2="383.97" stroke="#231f20" stroke-width="0.6"/>
<line x1="40.30" y1="382.89" x2="41.90" y2="382.89" stroke="#231f20" stroke-width="0.6"/>
<line x1="40.30" y1="381.95" x2="41.90" y2="381.95" stroke="#231f20" stroke-width="0.6"/>
<line x1="41.90" y1="455.10" x2="121.70" y2="455.10" stroke="#231f20" stroke-width="1.2"/>
<path d="M121.40,456.30L122.80,453.90M124.40,456.30L125.80,453.90" stroke="#231f20" stroke-width="0.8" fill="none"/>
<line x1="125.20" y1="455.10" x2="155.50" y2="455.10" stroke="#231f20" stroke-width="1.2"/>
<line x1="41.90" y1="455.10" x2="41.90" y2="457.10" stroke="#231f20" stroke-width="0.7"/>
<line x1="50.82" y1="455.10" x2="50.82" y2="457.10" stroke="#231f20" stroke-width="0.7"/>
<line x1="59.74" y1="455.10" x2="59.74" y2="457.10" stroke="#231f20" stroke-width="0.7"/>
<line x1="68.67" y1="455.10" x2="68.67" y2="457.10" stroke="#231f20" stroke-width="0.7"/>
<line x1="77.59" y1="455.10" x2="77.59" y2="457.10" stroke="#231f20" stroke-width="0.7"/>
<line x1="86.51" y1="455.10" x2="86.51" y2="457.10" stroke="#231f20" stroke-width="0.7"/>
<line x1="95.43" y1="455.10" x2="95.43" y2="457.10" stroke="#231f20" stroke-width="0.7"/>
<line x1="104.36" y1="455.10" x2="104.36" y2="457.10" stroke="#231f20" stroke-width="0.7"/>
<line x1="113.28" y1="455.10" x2="113.28" y2="457.10" stroke="#231f20" stroke-width="0.7"/>
<line x1="122.20" y1="455.10" x2="122.20" y2="457.10" stroke="#231f20" stroke-width="0.7"/>
<line x1="132.40" y1="455.10" x2="132.40" y2="457.10" stroke="#231f20" stroke-width="0.7"/>
<line x1="139.05" y1="455.10" x2="139.05" y2="457.10" stroke="#231f20" stroke-width="0.7"/>
<line x1="145.70" y1="455.10" x2="145.70" y2="457.10" stroke="#231f20" stroke-width="0.7"/>
<line x1="152.35" y1="455.10" x2="152.35" y2="457.10" stroke="#231f20" stroke-width="0.7"/>
<text x="41.90" y="465.40" font-size="5.08" text-anchor="middle" fill="#231f20" stroke="#231f20" stroke-width="0.1" textLength="2.95" lengthAdjust="spacingAndGlyphs">0</text>
<text x="68.70" y="465.40" font-size="5.08" text-anchor="middle" fill="#231f20" stroke="#231f20" stroke-width="0.1" textLength="5.9" lengthAdjust="spacingAndGlyphs">30</text>
<text x="95.50" y="465.40" font-size="5.08" text-anchor="middle" fill="#231f20" stroke="#231f20" stroke-width="0.1" textLength="5.9" lengthAdjust="spacingAndGlyphs">60</text>
<text x="122.20" y="465.40" font-size="5.08" text-anchor="middle" fill="#231f20" stroke="#231f20" stroke-width="0.1" textLength="5.9" lengthAdjust="spacingAndGlyphs">90</text>
<text x="132.40" y="465.40" font-size="5.08" text-anchor="middle" fill="#231f20" stroke="#231f20" stroke-width="0.1" textLength="8.85" lengthAdjust="spacingAndGlyphs">120</text>
<text x="145.70" y="465.40" font-size="5.08" text-anchor="middle" fill="#231f20" stroke="#231f20" stroke-width="0.1" textLength="8.85" lengthAdjust="spacingAndGlyphs">180</text>
<text x="98.65" y="477.00" font-size="8.37" text-anchor="middle" fill="#231f20" stroke="#231f20" stroke-width="0.1" textLength="76.3" lengthAdjust="spacingAndGlyphs">Time (days post-infusion)</text>
<text x="185.20" y="416.40" font-size="6.31" text-anchor="middle" fill="#231f20" stroke="#231f20" stroke-width="0.1" textLength="63.0" lengthAdjust="spacingAndGlyphs" transform="rotate(-90 185.20 416.40)">CAR22 copy number/50</text>
<text x="193.30" y="414.30" font-size="6.45" text-anchor="middle" fill="#231f20" stroke="#231f20" stroke-width="0.1" textLength="22.5" lengthAdjust="spacingAndGlyphs" transform="rotate(-90 193.30 414.30)">ng of DNA</text>
<polyline points="219.00,426.00 222.70,387.10 226.20,387.10 232.80,394.60 236.20,398.00 293.40,411.00" fill="none" stroke="#3f4a6e" stroke-width="1.0" stroke-linejoin="round"/>
<circle cx="219.00" cy="426.00" r="0.80" fill="#3f4a6e"/>
<circle cx="222.70" cy="387.10" r="0.80" fill="#3f4a6e"/>
<circle cx="226.20" cy="387.10" r="0.80" fill="#3f4a6e"/>
<circle cx="232.80" cy="394.60" r="0.80" fill="#3f4a6e"/>
<circle cx="236.20" cy="398.00" r="0.80" fill="#3f4a6e"/>
<circle cx="293.40" cy="411.00" r="0.80" fill="#3f4a6e"/>
<polyline points="298.30,412.00 317.90,423.50" fill="none" stroke="#3f4a6e" stroke-width="1.0" stroke-linejoin="round"/>
<circle cx="317.90" cy="423.50" r="0.80" fill="#3f4a6e"/>
<line x1="211.60" y1="377.60" x2="211.60" y2="455.10" stroke="#231f20" stroke-width="1.2"/>
<line x1="209.00" y1="454.60" x2="211.60" y2="454.60" stroke="#231f20" stroke-width="0.9"/>
<text x="203.70" y="456.20" font-size="5.08" text-anchor="end" fill="#231f20" stroke="#231f20" stroke-width="0.1" textLength="5.5" lengthAdjust="spacingAndGlyphs">10</text>
<text x="204.00" y="453.10" font-size="3.29" fill="#231f20">0</text>
<line x1="209.00" y1="436.10" x2="211.60" y2="436.10" stroke="#231f20" stroke-width="0.9"/>
<text x="203.70" y="437.70" font-size="5.08" text-anchor="end" fill="#231f20" stroke="#231f20" stroke-width="0.1" textLength="5.5" lengthAdjust="spacingAndGlyphs">10</text>
<text x="204.00" y="434.60" font-size="3.29" fill="#231f20">1</text>
<line x1="209.00" y1="417.60" x2="211.60" y2="417.60" stroke="#231f20" stroke-width="0.9"/>
<text x="203.70" y="419.20" font-size="5.08" text-anchor="end" fill="#231f20" stroke="#231f20" stroke-width="0.1" textLength="5.5" lengthAdjust="spacingAndGlyphs">10</text>
<text x="204.00" y="416.10" font-size="3.29" fill="#231f20">2</text>
<line x1="209.00" y1="399.10" x2="211.60" y2="399.10" stroke="#231f20" stroke-width="0.9"/>
<text x="203.70" y="400.70" font-size="5.08" text-anchor="end" fill="#231f20" stroke="#231f20" stroke-width="0.1" textLength="5.5" lengthAdjust="spacingAndGlyphs">10</text>
<text x="204.00" y="397.60" font-size="3.29" fill="#231f20">3</text>
<line x1="209.00" y1="380.60" x2="211.60" y2="380.60" stroke="#231f20" stroke-width="0.9"/>
<text x="203.70" y="382.20" font-size="5.08" text-anchor="end" fill="#231f20" stroke="#231f20" stroke-width="0.1" textLength="5.5" lengthAdjust="spacingAndGlyphs">10</text>
<text x="204.00" y="379.10" font-size="3.29" fill="#231f20">4</text>
<line x1="210.00" y1="449.03" x2="211.60" y2="449.03" stroke="#231f20" stroke-width="0.6"/>
<line x1="210.00" y1="445.77" x2="211.60" y2="445.77" stroke="#231f20" stroke-width="0.6"/>
<line x1="210.00" y1="443.46" x2="211.60" y2="443.46" stroke="#231f20" stroke-width="0.6"/>
<line x1="210.00" y1="441.67" x2="211.60" y2="441.67" stroke="#231f20" stroke-width="0.6"/>
<line x1="210.00" y1="440.20" x2="211.60" y2="440.20" stroke="#231f20" stroke-width="0.6"/>
<line x1="210.00" y1="438.97" x2="211.60" y2="438.97" stroke="#231f20" stroke-width="0.6"/>
<line x1="210.00" y1="437.89" x2="211.60" y2="437.89" stroke="#231f20" stroke-width="0.6"/>
<line x1="210.00" y1="436.95" x2="211.60" y2="436.95" stroke="#231f20" stroke-width="0.6"/>
<line x1="210.00" y1="430.53" x2="211.60" y2="430.53" stroke="#231f20" stroke-width="0.6"/>
<line x1="210.00" y1="427.27" x2="211.60" y2="427.27" stroke="#231f20" stroke-width="0.6"/>
<line x1="210.00" y1="424.96" x2="211.60" y2="424.96" stroke="#231f20" stroke-width="0.6"/>
<line x1="210.00" y1="423.17" x2="211.60" y2="423.17" stroke="#231f20" stroke-width="0.6"/>
<line x1="210.00" y1="421.70" x2="211.60" y2="421.70" stroke="#231f20" stroke-width="0.6"/>
<line x1="210.00" y1="420.47" x2="211.60" y2="420.47" stroke="#231f20" stroke-width="0.6"/>
<line x1="210.00" y1="419.39" x2="211.60" y2="419.39" stroke="#231f20" stroke-width="0.6"/>
<line x1="210.00" y1="418.45" x2="211.60" y2="418.45" stroke="#231f20" stroke-width="0.6"/>
<line x1="210.00" y1="412.03" x2="211.60" y2="412.03" stroke="#231f20" stroke-width="0.6"/>
<line x1="210.00" y1="408.77" x2="211.60" y2="408.77" stroke="#231f20" stroke-width="0.6"/>
<line x1="210.00" y1="406.46" x2="211.60" y2="406.46" stroke="#231f20" stroke-width="0.6"/>
<line x1="210.00" y1="404.67" x2="211.60" y2="404.67" stroke="#231f20" stroke-width="0.6"/>
<line x1="210.00" y1="403.20" x2="211.60" y2="403.20" stroke="#231f20" stroke-width="0.6"/>
<line x1="210.00" y1="401.97" x2="211.60" y2="401.97" stroke="#231f20" stroke-width="0.6"/>
<line x1="210.00" y1="400.89" x2="211.60" y2="400.89" stroke="#231f20" stroke-width="0.6"/>
<line x1="210.00" y1="399.95" x2="211.60" y2="399.95" stroke="#231f20" stroke-width="0.6"/>
<line x1="210.00" y1="393.53" x2="211.60" y2="393.53" stroke="#231f20" stroke-width="0.6"/>
<line x1="210.00" y1="390.27" x2="211.60" y2="390.27" stroke="#231f20" stroke-width="0.6"/>
<line x1="210.00" y1="387.96" x2="211.60" y2="387.96" stroke="#231f20" stroke-width="0.6"/>
<line x1="210.00" y1="386.17" x2="211.60" y2="386.17" stroke="#231f20" stroke-width="0.6"/>
<line x1="210.00" y1="384.70" x2="211.60" y2="384.70" stroke="#231f20" stroke-width="0.6"/>
<line x1="210.00" y1="383.47" x2="211.60" y2="383.47" stroke="#231f20" stroke-width="0.6"/>
<line x1="210.00" y1="382.39" x2="211.60" y2="382.39" stroke="#231f20" stroke-width="0.6"/>
<line x1="210.00" y1="381.45" x2="211.60" y2="381.45" stroke="#231f20" stroke-width="0.6"/>
<line x1="211.60" y1="454.60" x2="293.40" y2="454.60" stroke="#231f20" stroke-width="1.2"/>
<path d="M293.10,455.80L294.50,453.40M296.10,455.80L297.50,453.40" stroke="#231f20" stroke-width="0.8" fill="none"/>
<line x1="296.90" y1="454.60" x2="325.70" y2="454.60" stroke="#231f20" stroke-width="1.2"/>
<line x1="211.60" y1="454.60" x2="211.60" y2="456.60" stroke="#231f20" stroke-width="0.7"/>
<line x1="220.74" y1="454.60" x2="220.74" y2="456.60" stroke="#231f20" stroke-width="0.7"/>
<line x1="229.89" y1="454.60" x2="229.89" y2="456.60" stroke="#231f20" stroke-width="0.7"/>
<line x1="239.03" y1="454.60" x2="239.03" y2="456.60" stroke="#231f20" stroke-width="0.7"/>
<line x1="248.18" y1="454.60" x2="248.18" y2="456.60" stroke="#231f20" stroke-width="0.7"/>
<line x1="257.32" y1="454.60" x2="257.32" y2="456.60" stroke="#231f20" stroke-width="0.7"/>
<line x1="266.47" y1="454.60" x2="266.47" y2="456.60" stroke="#231f20" stroke-width="0.7"/>
<line x1="275.61" y1="454.60" x2="275.61" y2="456.60" stroke="#231f20" stroke-width="0.7"/>
<line x1="284.76" y1="454.60" x2="284.76" y2="456.60" stroke="#231f20" stroke-width="0.7"/>
<line x1="293.90" y1="454.60" x2="293.90" y2="456.60" stroke="#231f20" stroke-width="0.7"/>
<line x1="303.60" y1="454.60" x2="303.60" y2="456.60" stroke="#231f20" stroke-width="0.7"/>
<line x1="310.30" y1="454.60" x2="310.30" y2="456.60" stroke="#231f20" stroke-width="0.7"/>
<line x1="317.00" y1="454.60" x2="317.00" y2="456.60" stroke="#231f20" stroke-width="0.7"/>
<line x1="323.70" y1="454.60" x2="323.70" y2="456.60" stroke="#231f20" stroke-width="0.7"/>
<text x="211.60" y="464.90" font-size="5.08" text-anchor="middle" fill="#231f20" stroke="#231f20" stroke-width="0.1" textLength="2.95" lengthAdjust="spacingAndGlyphs">0</text>
<text x="238.60" y="464.90" font-size="5.08" text-anchor="middle" fill="#231f20" stroke="#231f20" stroke-width="0.1" textLength="5.9" lengthAdjust="spacingAndGlyphs">30</text>
<text x="265.60" y="464.90" font-size="5.08" text-anchor="middle" fill="#231f20" stroke="#231f20" stroke-width="0.1" textLength="5.9" lengthAdjust="spacingAndGlyphs">60</text>
<text x="293.90" y="464.90" font-size="5.08" text-anchor="middle" fill="#231f20" stroke="#231f20" stroke-width="0.1" textLength="5.9" lengthAdjust="spacingAndGlyphs">90</text>
<text x="303.60" y="464.90" font-size="5.08" text-anchor="middle" fill="#231f20" stroke="#231f20" stroke-width="0.1" textLength="8.85" lengthAdjust="spacingAndGlyphs">120</text>
<text x="317.00" y="464.90" font-size="5.08" text-anchor="middle" fill="#231f20" stroke="#231f20" stroke-width="0.1" textLength="8.85" lengthAdjust="spacingAndGlyphs">180</text>
<text x="269.80" y="477.50" font-size="8.37" text-anchor="middle" fill="#231f20" stroke="#231f20" stroke-width="0.1" textLength="76.4" lengthAdjust="spacingAndGlyphs">Time (days post-infusion)</text>
<text x="356.60" y="416.40" font-size="6.31" text-anchor="middle" fill="#231f20" stroke="#231f20" stroke-width="0.1" textLength="63.0" lengthAdjust="spacingAndGlyphs" transform="rotate(-90 356.60 416.40)">CAR22 copy number/50</text>
<text x="365.20" y="414.30" font-size="6.45" text-anchor="middle" fill="#231f20" stroke="#231f20" stroke-width="0.1" textLength="22.5" lengthAdjust="spacingAndGlyphs" transform="rotate(-90 365.20 414.30)">ng of DNA</text>
<polyline points="390.20,442.30 433.80,400.80 459.40,416.20" fill="none" stroke="#3f4a6e" stroke-width="1.0" stroke-linejoin="round"/>
<circle cx="390.20" cy="442.30" r="0.80" fill="#3f4a6e"/>
<circle cx="433.80" cy="400.80" r="0.80" fill="#3f4a6e"/>
<circle cx="459.40" cy="416.20" r="0.80" fill="#3f4a6e"/>
<line x1="384.60" y1="377.80" x2="384.60" y2="455.10" stroke="#231f20" stroke-width="1.2"/>
<line x1="382.00" y1="454.60" x2="384.60" y2="454.60" stroke="#231f20" stroke-width="0.9"/>
<text x="376.70" y="456.20" font-size="5.08" text-anchor="end" fill="#231f20" stroke="#231f20" stroke-width="0.1" textLength="5.5" lengthAdjust="spacingAndGlyphs">10</text>
<text x="377.00" y="453.10" font-size="3.29" fill="#231f20">0</text>
<line x1="382.00" y1="436.15" x2="384.60" y2="436.15" stroke="#231f20" stroke-width="0.9"/>
<text x="376.70" y="437.75" font-size="5.08" text-anchor="end" fill="#231f20" stroke="#231f20" stroke-width="0.1" textLength="5.5" lengthAdjust="spacingAndGlyphs">10</text>
<text x="377.00" y="434.65" font-size="3.29" fill="#231f20">1</text>
<line x1="382.00" y1="417.70" x2="384.60" y2="417.70" stroke="#231f20" stroke-width="0.9"/>
<text x="376.70" y="419.30" font-size="5.08" text-anchor="end" fill="#231f20" stroke="#231f20" stroke-width="0.1" textLength="5.5" lengthAdjust="spacingAndGlyphs">10</text>
<text x="377.00" y="416.20" font-size="3.29" fill="#231f20">2</text>
<line x1="382.00" y1="399.25" x2="384.60" y2="399.25" stroke="#231f20" stroke-width="0.9"/>
<text x="376.70" y="400.85" font-size="5.08" text-anchor="end" fill="#231f20" stroke="#231f20" stroke-width="0.1" textLength="5.5" lengthAdjust="spacingAndGlyphs">10</text>
<text x="377.00" y="397.75" font-size="3.29" fill="#231f20">3</text>
<line x1="382.00" y1="380.80" x2="384.60" y2="380.80" stroke="#231f20" stroke-width="0.9"/>
<text x="376.70" y="382.40" font-size="5.08" text-anchor="end" fill="#231f20" stroke="#231f20" stroke-width="0.1" textLength="5.5" lengthAdjust="spacingAndGlyphs">10</text>
<text x="377.00" y="379.30" font-size="3.29" fill="#231f20">4</text>
<line x1="383.00" y1="449.05" x2="384.60" y2="449.05" stroke="#231f20" stroke-width="0.6"/>
<line x1="383.00" y1="445.80" x2="384.60" y2="445.80" stroke="#231f20" stroke-width="0.6"/>
<line x1="383.00" y1="443.49" x2="384.60" y2="443.49" stroke="#231f20" stroke-width="0.6"/>
<line x1="383.00" y1="441.70" x2="384.60" y2="441.70" stroke="#231f20" stroke-width="0.6"/>
<line x1="383.00" y1="440.24" x2="384.60" y2="440.24" stroke="#231f20" stroke-width="0.6"/>
<line x1="383.00" y1="439.01" x2="384.60" y2="439.01" stroke="#231f20" stroke-width="0.6"/>
<line x1="383.00" y1="437.94" x2="384.60" y2="437.94" stroke="#231f20" stroke-width="0.6"/>
<line x1="383.00" y1="436.99" x2="384.60" y2="436.99" stroke="#231f20" stroke-width="0.6"/>
<line x1="383.00" y1="430.60" x2="384.60" y2="430.60" stroke="#231f20" stroke-width="0.6"/>
<line x1="383.00" y1="427.35" x2="384.60" y2="427.35" stroke="#231f20" stroke-width="0.6"/>
<line x1="383.00" y1="425.04" x2="384.60" y2="425.04" stroke="#231f20" stroke-width="0.6"/>
<line x1="383.00" y1="423.25" x2="384.60" y2="423.25" stroke="#231f20" stroke-width="0.6"/>
<line x1="383.00" y1="421.79" x2="384.60" y2="421.79" stroke="#231f20" stroke-width="0.6"/>
<line x1="383.00" y1="420.56" x2="384.60" y2="420.56" stroke="#231f20" stroke-width="0.6"/>
<line x1="383.00" y1="419.49" x2="384.60" y2="419.49" stroke="#231f20" stroke-width="0.6"/>
<line x1="383.00" y1="418.54" x2="384.60" y2="418.54" stroke="#231f20" stroke-width="0.6"/>
<line x1="383.00" y1="412.15" x2="384.60" y2="412.15" stroke="#231f20" stroke-width="0.6"/>
<line x1="383.00" y1="408.90" x2="384.60" y2="408.90" stroke="#231f20" stroke-width="0.6"/>
<line x1="383.00" y1="406.59" x2="384.60" y2="406.59" stroke="#231f20" stroke-width="0.6"/>
<line x1="383.00" y1="404.80" x2="384.60" y2="404.80" stroke="#231f20" stroke-width="0.6"/>
<line x1="383.00" y1="403.34" x2="384.60" y2="403.34" stroke="#231f20" stroke-width="0.6"/>
<line x1="383.00" y1="402.11" x2="384.60" y2="402.11" stroke="#231f20" stroke-width="0.6"/>
<line x1="383.00" y1="401.04" x2="384.60" y2="401.04" stroke="#231f20" stroke-width="0.6"/>
<line x1="383.00" y1="400.09" x2="384.60" y2="400.09" stroke="#231f20" stroke-width="0.6"/>
<line x1="383.00" y1="393.70" x2="384.60" y2="393.70" stroke="#231f20" stroke-width="0.6"/>
<line x1="383.00" y1="390.45" x2="384.60" y2="390.45" stroke="#231f20" stroke-width="0.6"/>
<line x1="383.00" y1="388.14" x2="384.60" y2="388.14" stroke="#231f20" stroke-width="0.6"/>
<line x1="383.00" y1="386.35" x2="384.60" y2="386.35" stroke="#231f20" stroke-width="0.6"/>
<line x1="383.00" y1="384.89" x2="384.60" y2="384.89" stroke="#231f20" stroke-width="0.6"/>
<line x1="383.00" y1="383.66" x2="384.60" y2="383.66" stroke="#231f20" stroke-width="0.6"/>
<line x1="383.00" y1="382.59" x2="384.60" y2="382.59" stroke="#231f20" stroke-width="0.6"/>
<line x1="383.00" y1="381.64" x2="384.60" y2="381.64" stroke="#231f20" stroke-width="0.6"/>
<line x1="384.60" y1="454.60" x2="464.10" y2="454.60" stroke="#231f20" stroke-width="1.2"/>
<path d="M463.80,455.80L465.20,453.40M466.80,455.80L468.20,453.40" stroke="#231f20" stroke-width="0.8" fill="none"/>
<line x1="467.60" y1="454.60" x2="497.00" y2="454.60" stroke="#231f20" stroke-width="1.2"/>
<line x1="384.60" y1="454.60" x2="384.60" y2="456.60" stroke="#231f20" stroke-width="0.7"/>
<line x1="393.49" y1="454.60" x2="393.49" y2="456.60" stroke="#231f20" stroke-width="0.7"/>
<line x1="402.38" y1="454.60" x2="402.38" y2="456.60" stroke="#231f20" stroke-width="0.7"/>
<line x1="411.27" y1="454.60" x2="411.27" y2="456.60" stroke="#231f20" stroke-width="0.7"/>
<line x1="420.16" y1="454.60" x2="420.16" y2="456.60" stroke="#231f20" stroke-width="0.7"/>
<line x1="429.04" y1="454.60" x2="429.04" y2="456.60" stroke="#231f20" stroke-width="0.7"/>
<line x1="437.93" y1="454.60" x2="437.93" y2="456.60" stroke="#231f20" stroke-width="0.7"/>
<line x1="446.82" y1="454.60" x2="446.82" y2="456.60" stroke="#231f20" stroke-width="0.7"/>
<line x1="455.71" y1="454.60" x2="455.71" y2="456.60" stroke="#231f20" stroke-width="0.7"/>
<line x1="464.60" y1="454.60" x2="464.60" y2="456.60" stroke="#231f20" stroke-width="0.7"/>
<line x1="475.10" y1="454.60" x2="475.10" y2="456.60" stroke="#231f20" stroke-width="0.7"/>
<line x1="481.70" y1="454.60" x2="481.70" y2="456.60" stroke="#231f20" stroke-width="0.7"/>
<line x1="488.30" y1="454.60" x2="488.30" y2="456.60" stroke="#231f20" stroke-width="0.7"/>
<line x1="494.90" y1="454.60" x2="494.90" y2="456.60" stroke="#231f20" stroke-width="0.7"/>
<text x="384.60" y="464.90" font-size="5.08" text-anchor="middle" fill="#231f20" stroke="#231f20" stroke-width="0.1" textLength="2.95" lengthAdjust="spacingAndGlyphs">0</text>
<text x="411.30" y="464.90" font-size="5.08" text-anchor="middle" fill="#231f20" stroke="#231f20" stroke-width="0.1" textLength="5.9" lengthAdjust="spacingAndGlyphs">30</text>
<text x="438.00" y="464.90" font-size="5.08" text-anchor="middle" fill="#231f20" stroke="#231f20" stroke-width="0.1" textLength="5.9" lengthAdjust="spacingAndGlyphs">60</text>
<text x="464.60" y="464.90" font-size="5.08" text-anchor="middle" fill="#231f20" stroke="#231f20" stroke-width="0.1" textLength="5.9" lengthAdjust="spacingAndGlyphs">90</text>
<text x="475.10" y="464.90" font-size="5.08" text-anchor="middle" fill="#231f20" stroke="#231f20" stroke-width="0.1" textLength="8.85" lengthAdjust="spacingAndGlyphs">120</text>
<text x="488.30" y="464.90" font-size="5.08" text-anchor="middle" fill="#231f20" stroke="#231f20" stroke-width="0.1" textLength="8.85" lengthAdjust="spacingAndGlyphs">180</text>
<text x="441.45" y="478.30" font-size="8.37" text-anchor="middle" fill="#231f20" stroke="#231f20" stroke-width="0.1" textLength="77.1" lengthAdjust="spacingAndGlyphs">Time (days post-infusion)</text>
<rect x="0.5" y="0.5" width="519" height="486" fill="none" stroke="#111" stroke-width="1"/>
</svg></div></body></html>
